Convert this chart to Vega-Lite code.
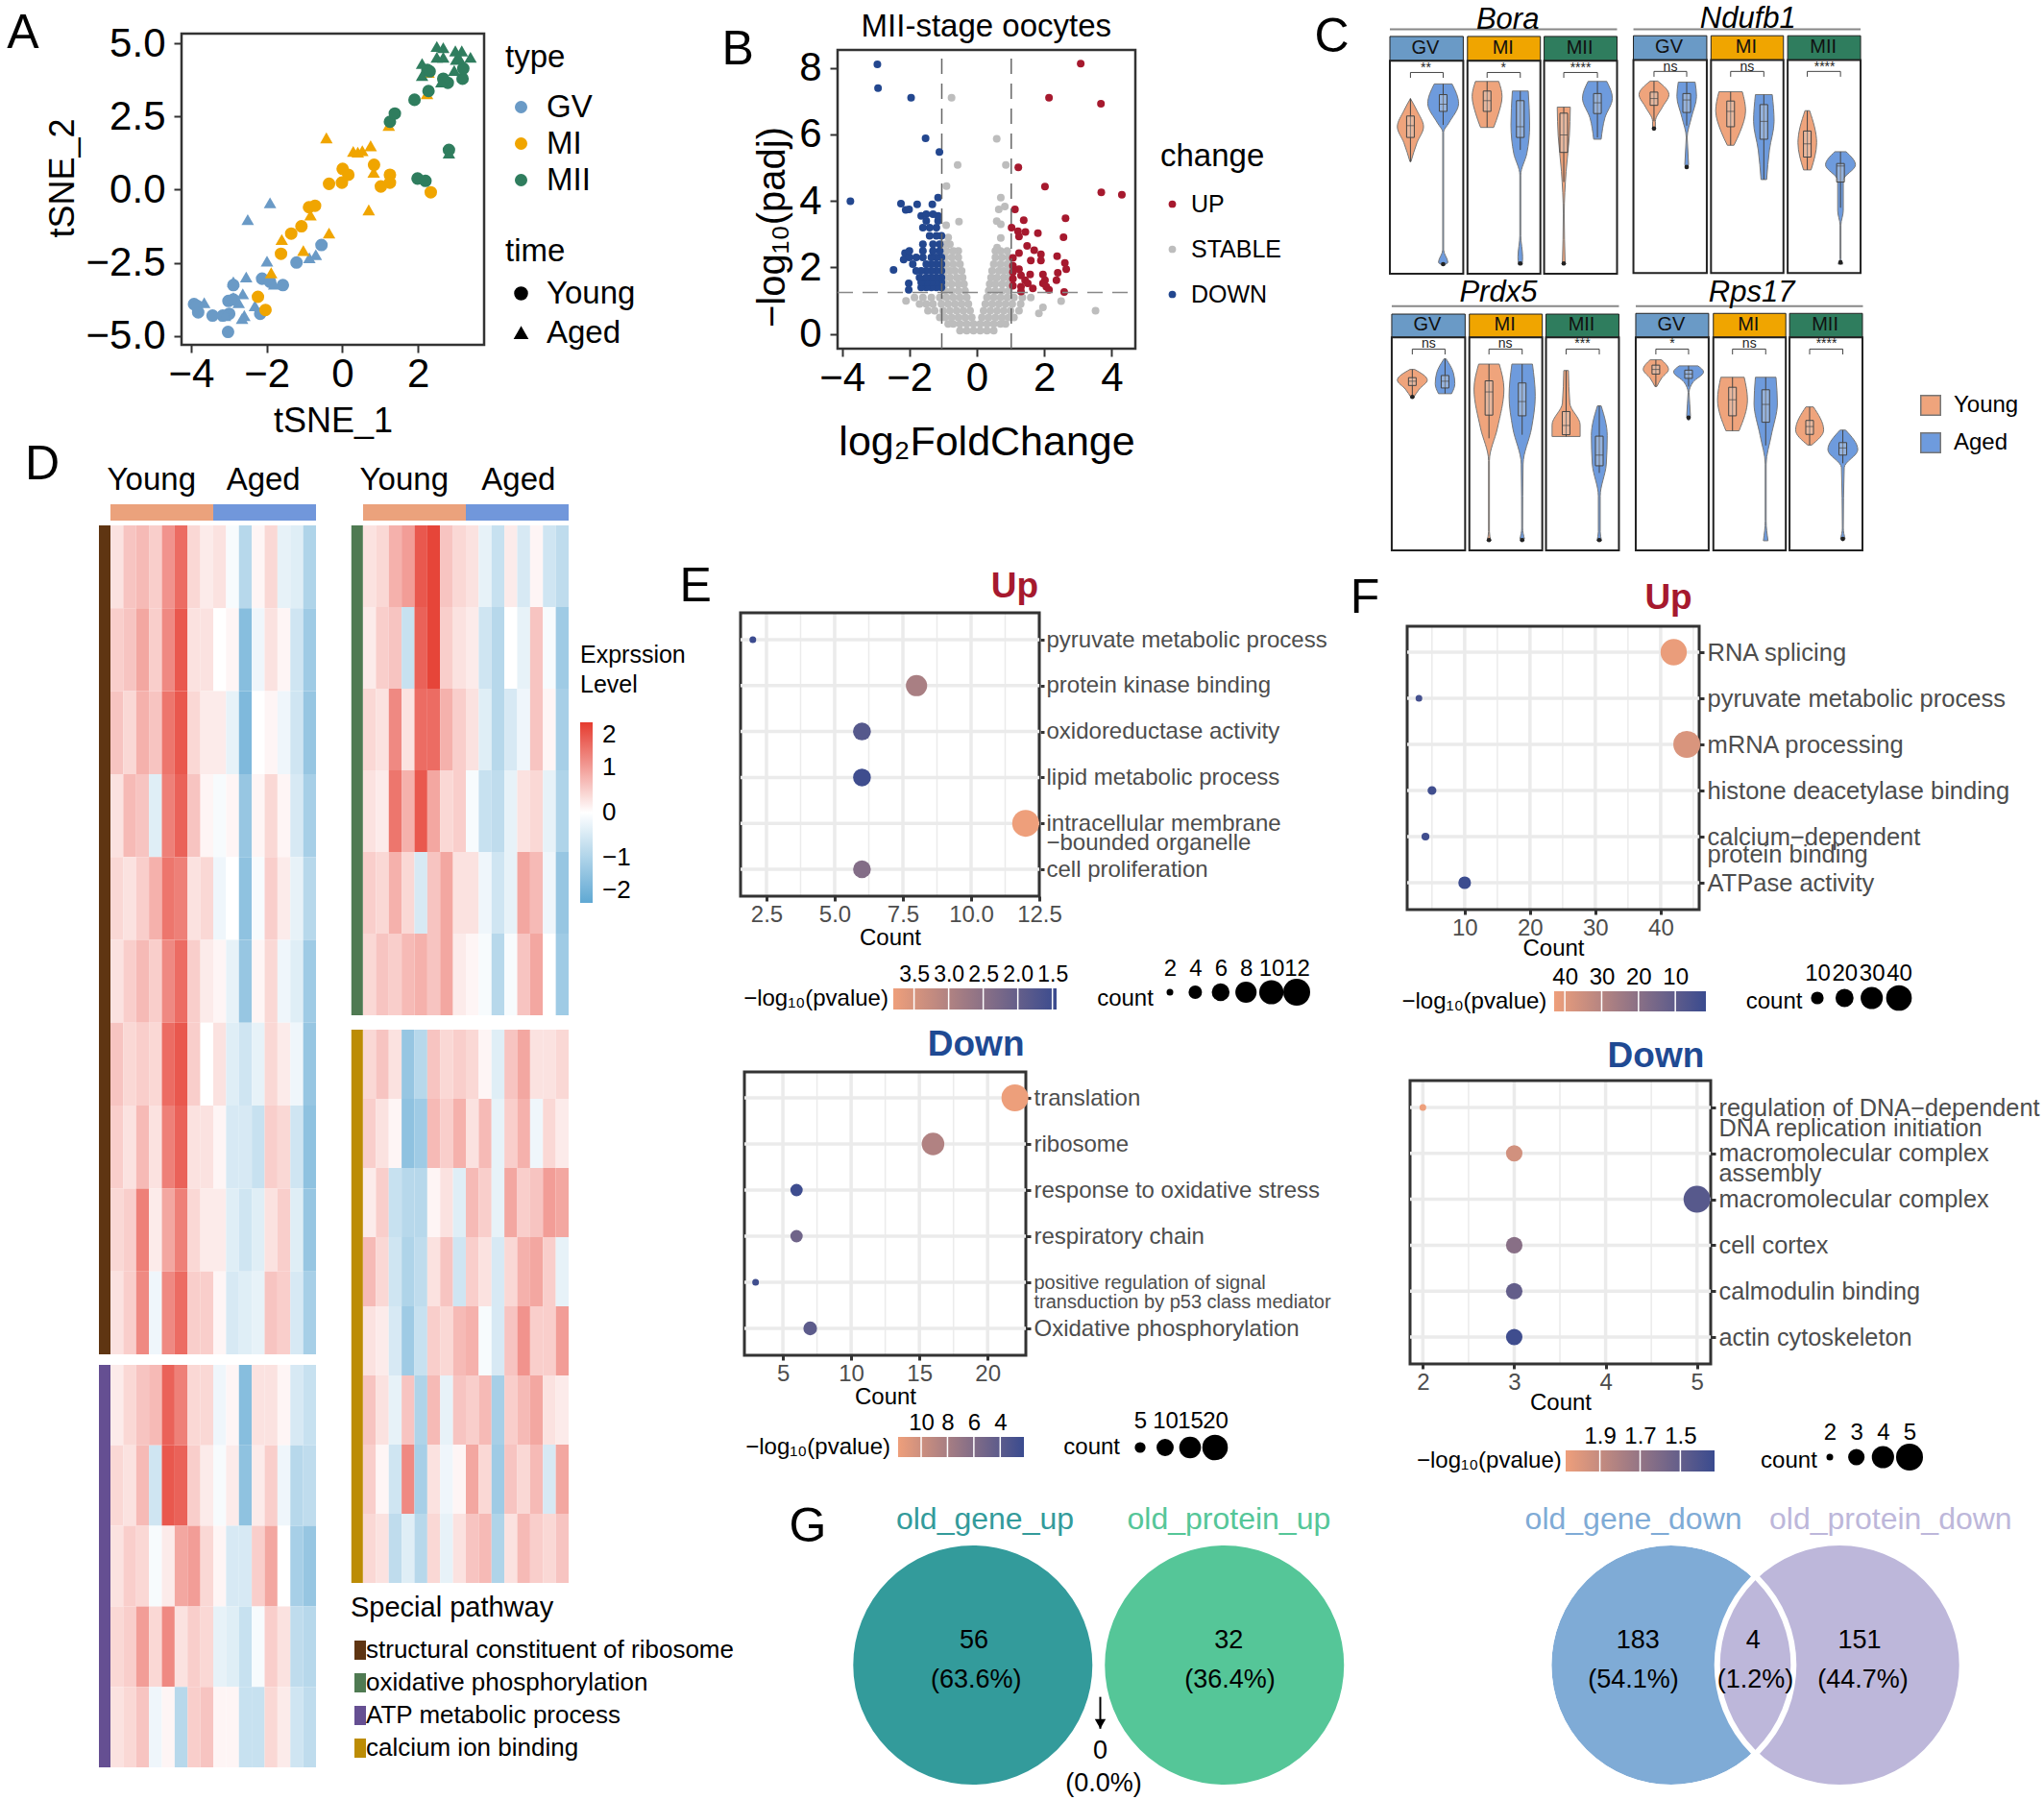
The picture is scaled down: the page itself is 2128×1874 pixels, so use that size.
{"$schema":"https://vega.github.io/schema/vega-lite/v6.json","width":2128,"height":1874,"autosize":"none","padding":0,"background":"white",
"config":{"view":{"stroke":null},"font":"Liberation Sans","axis":{"grid":false,"domain":false,"labelFlush":false,"labelOverlap":false,"tickColor":"#333","tickWidth":2,"tickSize":8,"labelColor":"black","titleFontWeight":"normal","titleColor":"black","labelFontSize":42,"titleFontSize":36},"legend":{"titleFontWeight":"normal"}},
"resolve":{"scale":{"x":"independent","y":"independent","color":"independent","fill":"independent","shape":"independent","size":"independent"},"axis":{"x":"independent","y":"independent"},"legend":{"color":"independent","shape":"independent"}},
"data":{"values":[{}]},
"datasets":{
"eu":[{"term":"pyruvate metabolic process","count":2,"p":1.45},{"term":"protein kinase binding","count":8,"p":2.9},{"term":"oxidoreductase activity","count":6,"p":1.8},{"term":"lipid metabolic process","count":6,"p":1.5},{"term":"intracellular membrane|−bounded organelle","count":12,"p":3.8},{"term":"cell proliferation","count":6,"p":2.4}],
"ed":[{"term":"translation","count":22,"p":11.7},{"term":"ribosome","count":16,"p":8.5},{"term":"response to oxidative stress","count":6,"p":2.4},{"term":"respiratory chain","count":6,"p":5},{"term":"positive regulation of signal|transduction by p53 class mediator","count":3,"p":2.5},{"term":"Oxidative phosphorylation","count":7,"p":4}],
"fu":[{"term":"RNA splicing","count":42,"p":42},{"term":"pyruvate metabolic process","count":3,"p":4},{"term":"mRNA processing","count":44,"p":38},{"term":"histone deacetylase binding","count":5,"p":3},{"term":"calcium−dependent|protein binding","count":4,"p":3},{"term":"ATPase activity","count":10,"p":2}],
"fd":[{"term":"regulation of DNA−dependent|DNA replication initiation","count":2,"p":2.07},{"term":"macromolecular complex|assembly","count":3,"p":1.95},{"term":"macromolecular complex","count":5,"p":1.45},{"term":"cell cortex","count":3,"p":1.65},{"term":"calmodulin binding","count":3,"p":1.5},{"term":"actin cytoskeleton","count":3,"p":1.35}],
"strips":[{"s":"GV","l":186,"r":343,"t":102,"b":170,"e":767,"m":262},{"s":"MI","l":352,"r":508,"t":102,"b":170,"e":767,"m":428},{"s":"MII","l":516,"r":672,"t":102,"b":170,"e":767,"m":592},{"s":"GV","l":707,"r":864,"t":100,"b":168,"e":765,"m":783},{"s":"MI","l":873,"r":1028,"t":100,"b":168,"e":765,"m":948},{"s":"MII","l":1037,"r":1193,"t":100,"b":168,"e":765,"m":1113},{"s":"GV","l":190,"r":347,"t":880,"b":945,"e":1542,"m":266},{"s":"MI","l":356,"r":512,"t":880,"b":945,"e":1542,"m":432},{"s":"MII","l":520,"r":676,"t":880,"b":945,"e":1542,"m":596},{"s":"GV","l":712,"r":868,"t":878,"b":945,"e":1542,"m":788},{"s":"MI","l":878,"r":1033,"t":878,"b":945,"e":1542,"m":953},{"s":"MII","l":1041,"r":1197,"t":878,"b":945,"e":1542,"m":1117}],
"brackets":[{"a":230,"b":300,"y":203,"e":218,"t":"**","m":263,"n":190},{"a":394,"b":465,"y":203,"e":218,"t":"*","m":429,"n":190},{"a":558,"b":630,"y":203,"e":218,"t":"****","m":594,"n":190},{"a":751,"b":821,"y":200,"e":215,"t":"ns","m":786,"n":187},{"a":915,"b":986,"y":200,"e":215,"t":"ns","m":950,"n":187},{"a":1079,"b":1150,"y":200,"e":215,"t":"****","m":1116,"n":187},{"a":234,"b":304,"y":978,"e":993,"t":"ns","m":269,"n":963},{"a":398,"b":469,"y":978,"e":993,"t":"ns","m":433,"n":963},{"a":563,"b":634,"y":978,"e":993,"t":"***","m":598,"n":963},{"a":755,"b":825,"y":978,"e":993,"t":"*","m":790,"n":963},{"a":919,"b":990,"y":978,"e":993,"t":"ns","m":955,"n":963},{"a":1084,"b":1155,"y":978,"e":993,"t":"****","m":1120,"n":963}],
"boxes":[{"c":230,"a":325,"b":385,"m":352,"u":276,"d":453},{"c":300,"a":265,"b":312,"m":292,"u":235,"d":350,"o":740},{"c":394,"a":255,"b":312,"m":282,"u":228,"d":357},{"c":465,"a":282,"b":385,"m":355,"u":255,"d":420,"o":738},{"c":558,"a":317,"b":427,"m":378,"u":300,"d":510,"o":738},{"c":630,"a":262,"b":318,"m":288,"u":228,"d":385},{"c":751,"a":258,"b":295,"m":276,"u":227,"d":340,"o":360},{"c":821,"a":262,"b":315,"m":280,"u":230,"d":352,"o":468},{"c":915,"a":283,"b":355,"m":312,"u":257,"d":407},{"c":986,"a":293,"b":390,"m":340,"u":265,"d":503},{"c":1079,"a":367,"b":440,"m":403,"u":310,"d":476},{"c":1150,"a":458,"b":510,"m":465,"u":425,"d":582,"o":735},{"c":234,"a":1058,"b":1080,"m":1068,"u":1035,"d":1108,"o":1112},{"c":304,"a":1052,"b":1087,"m":1068,"u":1005,"d":1103},{"c":398,"a":1067,"b":1163,"m":1098,"u":1020,"d":1228,"o":1513},{"c":469,"a":1073,"b":1165,"m":1125,"u":1020,"d":1218,"o":1513},{"c":563,"a":1153,"b":1218,"m":1192,"u":1038,"d":1223},{"c":634,"a":1222,"b":1305,"m":1275,"u":1137,"d":1325,"o":1513},{"c":755,"a":1023,"b":1048,"m":1035,"u":1008,"d":1083},{"c":825,"a":1037,"b":1060,"m":1048,"u":1025,"d":1083,"o":1170},{"c":919,"a":1085,"b":1165,"m":1120,"u":1057,"d":1207},{"c":990,"a":1092,"b":1183,"m":1133,"u":1057,"d":1248},{"c":1084,"a":1178,"b":1217,"m":1195,"u":1140,"d":1247},{"c":1155,"a":1240,"b":1275,"m":1255,"u":1205,"d":1298,"o":1510}],
"violins":[{"v":"B1","t":"Young","e":276,"l":230,"h":230},{"v":"B1","t":"Young","e":310,"l":216,"h":244},{"v":"B1","t":"Young","e":355,"l":202,"h":258},{"v":"B1","t":"Young","e":400,"l":216,"h":244},{"v":"B1","t":"Young","e":453,"l":229,"h":231},
{"v":"B2","t":"Aged","e":235,"l":281,"h":319},{"v":"B2","t":"Aged","e":290,"l":267,"h":333},{"v":"B2","t":"Aged","e":345,"l":288,"h":312},{"v":"B2","t":"Aged","e":370,"l":299,"h":301},{"v":"B2","t":"Aged","e":700,"l":299,"h":301},{"v":"B2","t":"Aged","e":735,"l":290,"h":310},{"v":"B2","t":"Aged","e":742,"l":298,"h":302},
{"v":"B3","t":"Young","e":228,"l":369,"h":419},{"v":"B3","t":"Young","e":270,"l":362,"h":426},{"v":"B3","t":"Young","e":320,"l":370,"h":418},{"v":"B3","t":"Young","e":357,"l":380,"h":408},
{"v":"B4","t":"Aged","e":255,"l":448,"h":482},{"v":"B4","t":"Aged","e":350,"l":445,"h":485},{"v":"B4","t":"Aged","e":430,"l":451,"h":479},{"v":"B4","t":"Aged","e":490,"l":464,"h":466},{"v":"B4","t":"Aged","e":660,"l":464,"h":466},{"v":"B4","t":"Aged","e":720,"l":460,"h":470},{"v":"B4","t":"Aged","e":742,"l":461,"h":469},
{"v":"B5","t":"Young","e":300,"l":544,"h":572},{"v":"B5","t":"Young","e":380,"l":546,"h":570},{"v":"B5","t":"Young","e":480,"l":553,"h":563},{"v":"B5","t":"Young","e":600,"l":557,"h":559},{"v":"B5","t":"Young","e":742,"l":555,"h":561},
{"v":"B6","t":"Aged","e":228,"l":610,"h":650},{"v":"B6","t":"Aged","e":275,"l":598,"h":662},{"v":"B6","t":"Aged","e":330,"l":614,"h":646},{"v":"B6","t":"Aged","e":390,"l":622,"h":638},
{"v":"N1","t":"Young","e":227,"l":743,"h":759},{"v":"N1","t":"Young","e":265,"l":719,"h":783},{"v":"N1","t":"Young","e":300,"l":733,"h":769},{"v":"N1","t":"Young","e":340,"l":748,"h":754},{"v":"N1","t":"Young","e":362,"l":748,"h":754},
{"v":"N2","t":"Aged","e":230,"l":803,"h":839},{"v":"N2","t":"Aged","e":270,"l":800,"h":842},{"v":"N2","t":"Aged","e":330,"l":811,"h":831},{"v":"N2","t":"Aged","e":385,"l":820,"h":822},{"v":"N2","t":"Aged","e":460,"l":817,"h":825},{"v":"N2","t":"Aged","e":472,"l":820,"h":822},
{"v":"N3","t":"Young","e":257,"l":890,"h":940},{"v":"N3","t":"Young","e":310,"l":883,"h":947},{"v":"N3","t":"Young","e":370,"l":895,"h":935},{"v":"N3","t":"Young","e":407,"l":908,"h":922},
{"v":"N4","t":"Aged","e":265,"l":968,"h":1004},{"v":"N4","t":"Aged","e":340,"l":964,"h":1008},{"v":"N4","t":"Aged","e":420,"l":974,"h":998},{"v":"N4","t":"Aged","e":503,"l":980,"h":992},
{"v":"N5","t":"Young","e":310,"l":1074,"h":1084},{"v":"N5","t":"Young","e":400,"l":1059,"h":1099},{"v":"N5","t":"Young","e":476,"l":1071,"h":1087},
{"v":"N6","t":"Aged","e":425,"l":1138,"h":1162},{"v":"N6","t":"Aged","e":462,"l":1118,"h":1182},{"v":"N6","t":"Aged","e":505,"l":1144,"h":1156},{"v":"N6","t":"Aged","e":590,"l":1144,"h":1156},{"v":"N6","t":"Aged","e":630,"l":1149,"h":1151},{"v":"N6","t":"Aged","e":725,"l":1149,"h":1151},{"v":"N6","t":"Aged","e":740,"l":1145,"h":1155},
{"v":"P1","t":"Young","e":1035,"l":229,"h":239},{"v":"P1","t":"Young","e":1065,"l":202,"h":266},{"v":"P1","t":"Young","e":1090,"l":219,"h":249},{"v":"P1","t":"Young","e":1115,"l":232,"h":236},
{"v":"P2","t":"Aged","e":1005,"l":302,"h":306},{"v":"P2","t":"Aged","e":1045,"l":286,"h":322},{"v":"P2","t":"Aged","e":1075,"l":283,"h":325},{"v":"P2","t":"Aged","e":1103,"l":290,"h":318},
{"v":"P3","t":"Young","e":1020,"l":376,"h":420},{"v":"P3","t":"Young","e":1090,"l":366,"h":430},{"v":"P3","t":"Young","e":1200,"l":380,"h":416},{"v":"P3","t":"Young","e":1290,"l":397,"h":399},{"v":"P3","t":"Young","e":1490,"l":397,"h":399},{"v":"P3","t":"Young","e":1515,"l":394,"h":402},
{"v":"P4","t":"Aged","e":1020,"l":447,"h":491},{"v":"P4","t":"Aged","e":1110,"l":441,"h":497},{"v":"P4","t":"Aged","e":1200,"l":449,"h":489},{"v":"P4","t":"Aged","e":1300,"l":467,"h":471},{"v":"P4","t":"Aged","e":1480,"l":468,"h":470},{"v":"P4","t":"Aged","e":1510,"l":464,"h":474},
{"v":"P5","t":"Young","e":1038,"l":558,"h":568},{"v":"P5","t":"Young","e":1130,"l":555,"h":571},{"v":"P5","t":"Young","e":1190,"l":533,"h":593},{"v":"P5","t":"Young","e":1223,"l":533,"h":593},
{"v":"P6","t":"Aged","e":1137,"l":630,"h":638},{"v":"P6","t":"Aged","e":1220,"l":617,"h":651},{"v":"P6","t":"Aged","e":1300,"l":619,"h":649},{"v":"P6","t":"Aged","e":1390,"l":632,"h":636},{"v":"P6","t":"Aged","e":1490,"l":632,"h":636},{"v":"P6","t":"Aged","e":1515,"l":629,"h":639},
{"v":"R1","t":"Young","e":1008,"l":743,"h":767},{"v":"R1","t":"Young","e":1035,"l":728,"h":782},{"v":"R1","t":"Young","e":1060,"l":743,"h":767},{"v":"R1","t":"Young","e":1083,"l":753,"h":757},
{"v":"R2","t":"Aged","e":1025,"l":805,"h":845},{"v":"R2","t":"Aged","e":1042,"l":793,"h":857},{"v":"R2","t":"Aged","e":1070,"l":815,"h":835},{"v":"R2","t":"Aged","e":1100,"l":824,"h":826},{"v":"R2","t":"Aged","e":1165,"l":821,"h":829},{"v":"R2","t":"Aged","e":1177,"l":824,"h":826},
{"v":"R3","t":"Young","e":1057,"l":894,"h":944},{"v":"R3","t":"Young","e":1120,"l":887,"h":951},{"v":"R3","t":"Young","e":1207,"l":905,"h":933},
{"v":"R4","t":"Aged","e":1057,"l":968,"h":1012},{"v":"R4","t":"Aged","e":1130,"l":965,"h":1015},{"v":"R4","t":"Aged","e":1220,"l":978,"h":1002},{"v":"R4","t":"Aged","e":1300,"l":989,"h":991},{"v":"R4","t":"Aged","e":1460,"l":989,"h":991},{"v":"R4","t":"Aged","e":1515,"l":985,"h":995},
{"v":"R5","t":"Young","e":1140,"l":1076,"h":1092},{"v":"R5","t":"Young","e":1205,"l":1054,"h":1114},{"v":"R5","t":"Young","e":1247,"l":1080,"h":1088},
{"v":"R6","t":"Aged","e":1205,"l":1149,"h":1161},{"v":"R6","t":"Aged","e":1260,"l":1123,"h":1187},{"v":"R6","t":"Aged","e":1310,"l":1152,"h":1158},{"v":"R6","t":"Aged","e":1480,"l":1154,"h":1156},{"v":"R6","t":"Aged","e":1510,"l":1150,"h":1160}],
"brown":[{"r":0,"c":0,"v":0.3},{"r":0,"c":1,"v":0.6},{"r":0,"c":2,"v":0.7},{"r":0,"c":3,"v":0.5},{"r":0,"c":4,"v":1.1},{"r":0,"c":5,"v":1.5},{"r":0,"c":6,"v":0.4},{"r":0,"c":7,"v":0.2},{"r":0,"c":8,"v":0.3},{"r":0,"c":9,"v":-0.1},{"r":0,"c":10,"v":-0.9},{"r":0,"c":11,"v":0.1},{"r":0,"c":12,"v":0.4},{"r":0,"c":13,"v":-0.3},{"r":0,"c":14,"v":-0.4},{"r":0,"c":15,"v":-1},
{"r":1,"c":0,"v":0.5},{"r":1,"c":1,"v":0.6},{"r":1,"c":2,"v":0.9},{"r":1,"c":3,"v":0.5},{"r":1,"c":4,"v":1.2},{"r":1,"c":5,"v":1.7},{"r":1,"c":6,"v":0.3},{"r":1,"c":7,"v":0.3},{"r":1,"c":8,"v":0},{"r":1,"c":9,"v":0.1},{"r":1,"c":10,"v":-1.5},{"r":1,"c":11,"v":-0.2},{"r":1,"c":12,"v":0.3},{"r":1,"c":13,"v":0.1},{"r":1,"c":14,"v":-0.6},{"r":1,"c":15,"v":-1.2},
{"r":2,"c":0,"v":0.6},{"r":2,"c":1,"v":0.4},{"r":2,"c":2,"v":0.8},{"r":2,"c":3,"v":0.6},{"r":2,"c":4,"v":1.4},{"r":2,"c":5,"v":1.7},{"r":2,"c":6,"v":0.4},{"r":2,"c":7,"v":0.2},{"r":2,"c":8,"v":0.2},{"r":2,"c":9,"v":-0.3},{"r":2,"c":10,"v":-1.6},{"r":2,"c":11,"v":0},{"r":2,"c":12,"v":0.1},{"r":2,"c":13,"v":-0.2},{"r":2,"c":14,"v":-0.6},{"r":2,"c":15,"v":-1.3},
{"r":3,"c":0,"v":0.3},{"r":3,"c":1,"v":0.7},{"r":3,"c":2,"v":0.6},{"r":3,"c":3,"v":-0.4},{"r":3,"c":4,"v":1.3},{"r":3,"c":5,"v":1.6},{"r":3,"c":6,"v":0.6},{"r":3,"c":7,"v":0.1},{"r":3,"c":8,"v":-0.1},{"r":3,"c":9,"v":0.1},{"r":3,"c":10,"v":-1.3},{"r":3,"c":11,"v":0.1},{"r":3,"c":12,"v":0.4},{"r":3,"c":13,"v":0.1},{"r":3,"c":14,"v":-0.5},{"r":3,"c":15,"v":-1.1},
{"r":4,"c":0,"v":0.4},{"r":4,"c":1,"v":0.3},{"r":4,"c":2,"v":0.5},{"r":4,"c":3,"v":0.8},{"r":4,"c":4,"v":1.4},{"r":4,"c":5,"v":1.3},{"r":4,"c":6,"v":0.3},{"r":4,"c":7,"v":0.4},{"r":4,"c":8,"v":-0.2},{"r":4,"c":9,"v":0},{"r":4,"c":10,"v":-1.4},{"r":4,"c":11,"v":-0.1},{"r":4,"c":12,"v":0.5},{"r":4,"c":13,"v":0.2},{"r":4,"c":14,"v":-0.3},{"r":4,"c":15,"v":-0.9},
{"r":5,"c":0,"v":0.3},{"r":5,"c":1,"v":0.5},{"r":5,"c":2,"v":0.7},{"r":5,"c":3,"v":0.5},{"r":5,"c":4,"v":1.2},{"r":5,"c":5,"v":1.5},{"r":5,"c":6,"v":0.5},{"r":5,"c":7,"v":0.2},{"r":5,"c":8,"v":0.1},{"r":5,"c":9,"v":-0.3},{"r":5,"c":10,"v":-1.3},{"r":5,"c":11,"v":0.1},{"r":5,"c":12,"v":0.4},{"r":5,"c":13,"v":-0.2},{"r":5,"c":14,"v":-0.4},{"r":5,"c":15,"v":-1.2},
{"r":6,"c":0,"v":0.6},{"r":6,"c":1,"v":0.4},{"r":6,"c":2,"v":0.5},{"r":6,"c":3,"v":0.4},{"r":6,"c":4,"v":1.5},{"r":6,"c":5,"v":1.7},{"r":6,"c":6,"v":0.5},{"r":6,"c":7,"v":0},{"r":6,"c":8,"v":0.3},{"r":6,"c":9,"v":-0.4},{"r":6,"c":10,"v":-0.6},{"r":6,"c":11,"v":-0.3},{"r":6,"c":12,"v":0.4},{"r":6,"c":13,"v":0.2},{"r":6,"c":14,"v":-0.2},{"r":6,"c":15,"v":-1.3},
{"r":7,"c":0,"v":0.5},{"r":7,"c":1,"v":0.3},{"r":7,"c":2,"v":0.7},{"r":7,"c":3,"v":0.3},{"r":7,"c":4,"v":1.3},{"r":7,"c":5,"v":1.6},{"r":7,"c":6,"v":0.3},{"r":7,"c":7,"v":0.3},{"r":7,"c":8,"v":0.1},{"r":7,"c":9,"v":-0.5},{"r":7,"c":10,"v":-0.5},{"r":7,"c":11,"v":-0.7},{"r":7,"c":12,"v":0.5},{"r":7,"c":13,"v":0.4},{"r":7,"c":14,"v":-0.6},{"r":7,"c":15,"v":-1.4},
{"r":8,"c":0,"v":0.4},{"r":8,"c":1,"v":0.5},{"r":8,"c":2,"v":1.3},{"r":8,"c":3,"v":0.2},{"r":8,"c":4,"v":0.9},{"r":8,"c":5,"v":1.3},{"r":8,"c":6,"v":0.4},{"r":8,"c":7,"v":0.2},{"r":8,"c":8,"v":0.2},{"r":8,"c":9,"v":-0.4},{"r":8,"c":10,"v":-0.6},{"r":8,"c":11,"v":-0.4},{"r":8,"c":12,"v":0.3},{"r":8,"c":13,"v":0.5},{"r":8,"c":14,"v":-0.4},{"r":8,"c":15,"v":-1.3},
{"r":9,"c":0,"v":0.3},{"r":9,"c":1,"v":0.5},{"r":9,"c":2,"v":1.2},{"r":9,"c":3,"v":-0.2},{"r":9,"c":4,"v":1.2},{"r":9,"c":5,"v":1.5},{"r":9,"c":6,"v":0.5},{"r":9,"c":7,"v":0.5},{"r":9,"c":8,"v":0.1},{"r":9,"c":9,"v":-0.5},{"r":9,"c":10,"v":-0.4},{"r":9,"c":11,"v":-0.3},{"r":9,"c":12,"v":0.6},{"r":9,"c":13,"v":0.5},{"r":9,"c":14,"v":-0.5},{"r":9,"c":15,"v":-1.1}],
"purple":[{"r":0,"c":0,"v":0.2},{"r":0,"c":1,"v":0.4},{"r":0,"c":2,"v":0.6},{"r":0,"c":3,"v":0.7},{"r":0,"c":4,"v":1.6},{"r":0,"c":5,"v":1.3},{"r":0,"c":6,"v":0.4},{"r":0,"c":7,"v":0.4},{"r":0,"c":8,"v":-0.2},{"r":0,"c":9,"v":0.1},{"r":0,"c":10,"v":-1.5},{"r":0,"c":11,"v":0.3},{"r":0,"c":12,"v":0.3},{"r":0,"c":13,"v":0.1},{"r":0,"c":14,"v":-0.5},{"r":0,"c":15,"v":-0.7},
{"r":1,"c":0,"v":0.4},{"r":1,"c":1,"v":0.3},{"r":1,"c":2,"v":0.7},{"r":1,"c":3,"v":-0.6},{"r":1,"c":4,"v":1.7},{"r":1,"c":5,"v":1.6},{"r":1,"c":6,"v":0.5},{"r":1,"c":7,"v":0.2},{"r":1,"c":8,"v":-0.1},{"r":1,"c":9,"v":0.2},{"r":1,"c":10,"v":-1.4},{"r":1,"c":11,"v":0.2},{"r":1,"c":12,"v":0.5},{"r":1,"c":13,"v":-0.2},{"r":1,"c":14,"v":-0.9},{"r":1,"c":15,"v":-0.8},
{"r":2,"c":0,"v":0.3},{"r":2,"c":1,"v":0.5},{"r":2,"c":2,"v":0.4},{"r":2,"c":3,"v":-0.1},{"r":2,"c":4,"v":0.2},{"r":2,"c":5,"v":0.9},{"r":2,"c":6,"v":1},{"r":2,"c":7,"v":0.4},{"r":2,"c":8,"v":0.1},{"r":2,"c":9,"v":-0.5},{"r":2,"c":10,"v":-0.5},{"r":2,"c":11,"v":0.5},{"r":2,"c":12,"v":0.9},{"r":2,"c":13,"v":0},{"r":2,"c":14,"v":-1.1},{"r":2,"c":15,"v":-1.3},
{"r":3,"c":0,"v":0.4},{"r":3,"c":1,"v":0.5},{"r":3,"c":2,"v":1},{"r":3,"c":3,"v":0.4},{"r":3,"c":4,"v":1.2},{"r":3,"c":5,"v":0.3},{"r":3,"c":6,"v":0.5},{"r":3,"c":7,"v":0.4},{"r":3,"c":8,"v":-0.3},{"r":3,"c":9,"v":-0.4},{"r":3,"c":10,"v":-0.7},{"r":3,"c":11,"v":-0.1},{"r":3,"c":12,"v":0.5},{"r":3,"c":13,"v":0.3},{"r":3,"c":14,"v":-0.8},{"r":3,"c":15,"v":-0.9},
{"r":4,"c":0,"v":0.3},{"r":4,"c":1,"v":0.4},{"r":4,"c":2,"v":0.6},{"r":4,"c":3,"v":-0.2},{"r":4,"c":4,"v":0.1},{"r":4,"c":5,"v":-0.9},{"r":4,"c":6,"v":0.5},{"r":4,"c":7,"v":0.6},{"r":4,"c":8,"v":0.1},{"r":4,"c":9,"v":0.1},{"r":4,"c":10,"v":-0.7},{"r":4,"c":11,"v":-0.7},{"r":4,"c":12,"v":0.4},{"r":4,"c":13,"v":0.2},{"r":4,"c":14,"v":-0.6},{"r":4,"c":15,"v":-0.8}],
"green":[{"r":0,"c":0,"v":0.3},{"r":0,"c":1,"v":0.4},{"r":0,"c":2,"v":0.8},{"r":0,"c":3,"v":1},{"r":0,"c":4,"v":1.7},{"r":0,"c":5,"v":1.9},{"r":0,"c":6,"v":0.6},{"r":0,"c":7,"v":0.4},{"r":0,"c":8,"v":0.3},{"r":0,"c":9,"v":-0.3},{"r":0,"c":10,"v":-0.7},{"r":0,"c":11,"v":0.2},{"r":0,"c":12,"v":-0.5},{"r":0,"c":13,"v":0.1},{"r":0,"c":14,"v":-0.6},{"r":0,"c":15,"v":-0.8},
{"r":1,"c":0,"v":0.2},{"r":1,"c":1,"v":0.5},{"r":1,"c":2,"v":0.6},{"r":1,"c":3,"v":-0.7},{"r":1,"c":4,"v":1.6},{"r":1,"c":5,"v":1.9},{"r":1,"c":6,"v":0.5},{"r":1,"c":7,"v":0.3},{"r":1,"c":8,"v":0.2},{"r":1,"c":9,"v":-0.6},{"r":1,"c":10,"v":-0.9},{"r":1,"c":11,"v":0},{"r":1,"c":12,"v":-0.3},{"r":1,"c":13,"v":0.6},{"r":1,"c":14,"v":-0.1},{"r":1,"c":15,"v":-1.2},
{"r":2,"c":0,"v":0.4},{"r":2,"c":1,"v":0.3},{"r":2,"c":2,"v":1.2},{"r":2,"c":3,"v":0.3},{"r":2,"c":4,"v":1.5},{"r":2,"c":5,"v":1.5},{"r":2,"c":6,"v":0.8},{"r":2,"c":7,"v":0.5},{"r":2,"c":8,"v":0.3},{"r":2,"c":9,"v":-0.4},{"r":2,"c":10,"v":-0.9},{"r":2,"c":11,"v":-0.5},{"r":2,"c":12,"v":-0.2},{"r":2,"c":13,"v":0.6},{"r":2,"c":14,"v":0.1},{"r":2,"c":15,"v":-1.1},
{"r":3,"c":0,"v":0.3},{"r":3,"c":1,"v":0.2},{"r":3,"c":2,"v":1.4},{"r":3,"c":3,"v":0.8},{"r":3,"c":4,"v":1.7},{"r":3,"c":5,"v":0.9},{"r":3,"c":6,"v":0.4},{"r":3,"c":7,"v":0.5},{"r":3,"c":8,"v":-0.1},{"r":3,"c":9,"v":-0.7},{"r":3,"c":10,"v":-0.8},{"r":3,"c":11,"v":-0.3},{"r":3,"c":12,"v":0.3},{"r":3,"c":13,"v":0.4},{"r":3,"c":14,"v":-0.3},{"r":3,"c":15,"v":-1},
{"r":4,"c":0,"v":0.5},{"r":4,"c":1,"v":0.4},{"r":4,"c":2,"v":0.8},{"r":4,"c":3,"v":0.4},{"r":4,"c":4,"v":-0.5},{"r":4,"c":5,"v":0.6},{"r":4,"c":6,"v":0.9},{"r":4,"c":7,"v":0.3},{"r":4,"c":8,"v":0.3},{"r":4,"c":9,"v":-0.2},{"r":4,"c":10,"v":-0.6},{"r":4,"c":11,"v":-0.3},{"r":4,"c":12,"v":0.9},{"r":4,"c":13,"v":0.7},{"r":4,"c":14,"v":-0.2},{"r":4,"c":15,"v":-1.3},
{"r":5,"c":0,"v":0.4},{"r":5,"c":1,"v":0.6},{"r":5,"c":2,"v":0.5},{"r":5,"c":3,"v":0.7},{"r":5,"c":4,"v":0.8},{"r":5,"c":5,"v":0.6},{"r":5,"c":6,"v":0.9},{"r":5,"c":7,"v":0.2},{"r":5,"c":8,"v":0.1},{"r":5,"c":9,"v":-0.1},{"r":5,"c":10,"v":-0.9},{"r":5,"c":11,"v":-0.1},{"r":5,"c":12,"v":0.6},{"r":5,"c":13,"v":0.9},{"r":5,"c":14,"v":0},{"r":5,"c":15,"v":-1.2}],
"gold":[{"r":0,"c":0,"v":0.4},{"r":0,"c":1,"v":0.6},{"r":0,"c":2,"v":0.3},{"r":0,"c":3,"v":-1.3},{"r":0,"c":4,"v":-0.9},{"r":0,"c":5,"v":0.6},{"r":0,"c":6,"v":0.4},{"r":0,"c":7,"v":0.5},{"r":0,"c":8,"v":0.4},{"r":0,"c":9,"v":0.1},{"r":0,"c":10,"v":-0.4},{"r":0,"c":11,"v":0.6},{"r":0,"c":12,"v":0.9},{"r":0,"c":13,"v":0.3},{"r":0,"c":14,"v":0.3},{"r":0,"c":15,"v":0.4},
{"r":1,"c":0,"v":0.5},{"r":1,"c":1,"v":0.3},{"r":1,"c":2,"v":0.1},{"r":1,"c":3,"v":-1.4},{"r":1,"c":4,"v":-1.2},{"r":1,"c":5,"v":0.7},{"r":1,"c":6,"v":0.5},{"r":1,"c":7,"v":0.8},{"r":1,"c":8,"v":0.3},{"r":1,"c":9,"v":0.7},{"r":1,"c":10,"v":-0.3},{"r":1,"c":11,"v":0.5},{"r":1,"c":12,"v":0.8},{"r":1,"c":13,"v":-0.2},{"r":1,"c":14,"v":0.4},{"r":1,"c":15,"v":0.2},
{"r":2,"c":0,"v":0.2},{"r":2,"c":1,"v":0.5},{"r":2,"c":2,"v":-0.7},{"r":2,"c":3,"v":-0.9},{"r":2,"c":4,"v":-0.9},{"r":2,"c":5,"v":0.1},{"r":2,"c":6,"v":0.3},{"r":2,"c":7,"v":-0.4},{"r":2,"c":8,"v":0.7},{"r":2,"c":9,"v":0.5},{"r":2,"c":10,"v":-0.3},{"r":2,"c":11,"v":0.9},{"r":2,"c":12,"v":0.5},{"r":2,"c":13,"v":0.6},{"r":2,"c":14,"v":1},{"r":2,"c":15,"v":0.9},
{"r":3,"c":0,"v":0.7},{"r":3,"c":1,"v":0.4},{"r":3,"c":2,"v":-0.6},{"r":3,"c":3,"v":-1},{"r":3,"c":4,"v":-0.8},{"r":3,"c":5,"v":0.3},{"r":3,"c":6,"v":0.6},{"r":3,"c":7,"v":-0.6},{"r":3,"c":8,"v":0.5},{"r":3,"c":9,"v":0.3},{"r":3,"c":10,"v":-0.5},{"r":3,"c":11,"v":0.4},{"r":3,"c":12,"v":0.8},{"r":3,"c":13,"v":0.9},{"r":3,"c":14,"v":0.5},{"r":3,"c":15,"v":-0.3},
{"r":4,"c":0,"v":0.3},{"r":4,"c":1,"v":0.2},{"r":4,"c":2,"v":-0.5},{"r":4,"c":3,"v":-1.2},{"r":4,"c":4,"v":-0.7},{"r":4,"c":5,"v":0.5},{"r":4,"c":6,"v":0.4},{"r":4,"c":7,"v":0.7},{"r":4,"c":8,"v":0.8},{"r":4,"c":9,"v":-0.1},{"r":4,"c":10,"v":-0.5},{"r":4,"c":11,"v":0.6},{"r":4,"c":12,"v":1.1},{"r":4,"c":13,"v":0.5},{"r":4,"c":14,"v":0.5},{"r":4,"c":15,"v":1},
{"r":5,"c":0,"v":0.6},{"r":5,"c":1,"v":0.3},{"r":5,"c":2,"v":-0.3},{"r":5,"c":3,"v":0.6},{"r":5,"c":4,"v":-1},{"r":5,"c":5,"v":0.7},{"r":5,"c":6,"v":-0.3},{"r":5,"c":7,"v":0.6},{"r":5,"c":8,"v":0.5},{"r":5,"c":9,"v":0.7},{"r":5,"c":10,"v":-1.1},{"r":5,"c":11,"v":0.5},{"r":5,"c":12,"v":0.7},{"r":5,"c":13,"v":0.9},{"r":5,"c":14,"v":0.3},{"r":5,"c":15,"v":0.2},
{"r":6,"c":0,"v":0.5},{"r":6,"c":1,"v":0.1},{"r":6,"c":2,"v":-0.6},{"r":6,"c":3,"v":1.2},{"r":6,"c":4,"v":-1.1},{"r":6,"c":5,"v":0.3},{"r":6,"c":6,"v":-0.2},{"r":6,"c":7,"v":0.1},{"r":6,"c":8,"v":0.9},{"r":6,"c":9,"v":0.4},{"r":6,"c":10,"v":-1.2},{"r":6,"c":11,"v":0.6},{"r":6,"c":12,"v":0.4},{"r":6,"c":13,"v":0.7},{"r":6,"c":14,"v":-0.5},{"r":6,"c":15,"v":0.9},
{"r":7,"c":0,"v":0.4},{"r":7,"c":1,"v":0.3},{"r":7,"c":2,"v":-0.8},{"r":7,"c":3,"v":-0.4},{"r":7,"c":4,"v":-0.9},{"r":7,"c":5,"v":0.4},{"r":7,"c":6,"v":-0.3},{"r":7,"c":7,"v":0.3},{"r":7,"c":8,"v":0.6},{"r":7,"c":9,"v":0.7},{"r":7,"c":10,"v":-1},{"r":7,"c":11,"v":0.3},{"r":7,"c":12,"v":0.7},{"r":7,"c":13,"v":0.5},{"r":7,"c":14,"v":0.4},{"r":7,"c":15,"v":0.6}]
},
"layer":[
{"mark":{"type":"rule","opacity":0},"encoding":{"x":{"datum":-4.25,"scale":{"domain":[-4.25,3.75],"range":[189,504],"nice":false},"axis":{"orient":"bottom","offset":-1515,"values":[-4,-2,0,2],"title":"tSNE_1","titlePadding":11}},"y":{"datum":-5.3,"scale":{"domain":[-5.3,5.33],"range":[359,35],"nice":false},"axis":{"orient":"left","offset":-189,"values":[-5,-2.5,0,2.5,5],"format":".1f","title":"tSNE_2","titlePadding":5,"labelPadding":9,"titleY":185}}}},
{"mark":{"type":"rule","opacity":0},"encoding":{"x":{"datum":-4.13,"scale":{"domain":[-4.13,4.7],"range":[872,1182],"nice":false},"axis":{"orient":"bottom","offset":-1511,"values":[-4,-2,0,2,4],"title":"log₂FoldChange","titleFontSize":43,"titlePadding":25}},"y":{"datum":-0.44,"scale":{"domain":[-0.44,8.54],"range":[363,52],"nice":false},"axis":{"orient":"left","offset":-872,"values":[0,2,4,6,8],"title":"−log₁₀(padj)","titleFontSize":40,"titlePadding":7,"labelPadding":9,"titleY":236}}}},
{"layer":[
{"mark":{"type":"rect","fill":null,"stroke":"#333","strokeWidth":2.5},"encoding":{"x":{"datum":-4.25,"scale":{"domain":[-4.25,3.75],"range":[189,504],"nice":false},"axis":null},"x2":{"datum":3.75},"y":{"datum":-5.3,"scale":{"domain":[-5.3,5.33],"range":[359,35],"nice":false},"axis":null},"y2":{"datum":5.33}}},
{"data":{"values":[{"t":"A","x":-8.44,"y":5.33}]},"mark":{"type":"text","fontSize":50},"encoding":{"x":{"field":"x","type":"quantitative","axis":null},"y":{"field":"y","type":"quantitative","axis":null},"text":{"field":"t"}}},
{"data":{"values":[{"x":-3.92,"y":-3.91,"type":"GV","time":"Young"},{"x":-3.81,"y":-4.19,"type":"GV","time":"Young"},{"x":-3.84,"y":-3.97,"type":"GV","time":"Young"},{"x":-3.43,"y":-4.3,"type":"GV","time":"Young"},{"x":-3.02,"y":-4.86,"type":"GV","time":"Young"},{"x":-3.01,"y":-3.8,"type":"GV","time":"Young"},{"x":-2.88,"y":-3.26,"type":"GV","time":"Young"},{"x":-2.88,"y":-3.75,"type":"GV","time":"Young"},{"x":-2.99,"y":-4.24,"type":"GV","time":"Young"},{"x":-2.17,"y":-4.24,"type":"GV","time":"Young"},{"x":-2.12,"y":-3.04,"type":"GV","time":"Young"},{"x":-1.91,"y":-3.15,"type":"GV","time":"Young"},{"x":-1.57,"y":-3.26,"type":"GV","time":"Young"},{"x":-1.21,"y":-2.49,"type":"GV","time":"Young"},{"x":-0.55,"y":-1.89,"type":"GV","time":"Young"},{"x":-3.16,"y":-4.3,"type":"GV","time":"Young"},
{"x":-3.65,"y":-3.86,"type":"GV","time":"Aged"},{"x":-3.1,"y":-4.3,"type":"GV","time":"Aged"},{"x":-2.88,"y":-3.15,"type":"GV","time":"Aged"},{"x":-2.88,"y":-3.69,"type":"GV","time":"Aged"},{"x":-2.74,"y":-3.86,"type":"GV","time":"Aged"},{"x":-2.63,"y":-3.56,"type":"GV","time":"Aged"},{"x":-2.59,"y":-4.3,"type":"GV","time":"Aged"},{"x":-2.65,"y":-4.4,"type":"GV","time":"Aged"},{"x":-2.31,"y":-3.97,"type":"GV","time":"Aged"},{"x":-2.54,"y":-2.98,"type":"GV","time":"Aged"},{"x":-1.99,"y":-2.44,"type":"GV","time":"Aged"},{"x":-2.5,"y":-1.02,"type":"GV","time":"Aged"},{"x":-1.91,"y":-0.45,"type":"GV","time":"Aged"},{"x":-0.87,"y":-2.33,"type":"GV","time":"Aged"},{"x":-0.7,"y":-2.22,"type":"GV","time":"Aged"},{"x":-1.8,"y":-3.23,"type":"GV","time":"Aged"},
{"x":-2.23,"y":-3.66,"type":"MI","time":"Young"},{"x":-2.03,"y":-4.11,"type":"MI","time":"Young"},{"x":-1.62,"y":-2.19,"type":"MI","time":"Young"},{"x":-1.35,"y":-1.5,"type":"MI","time":"Young"},{"x":-1.08,"y":-1.25,"type":"MI","time":"Young"},{"x":-0.88,"y":-0.6,"type":"MI","time":"Young"},{"x":-0.72,"y":-0.55,"type":"MI","time":"Young"},{"x":-0.35,"y":0.2,"type":"MI","time":"Young"},{"x":-0.01,"y":0.24,"type":"MI","time":"Young"},{"x":0.01,"y":0.71,"type":"MI","time":"Young"},{"x":0.16,"y":0.51,"type":"MI","time":"Young"},{"x":0.84,"y":0.85,"type":"MI","time":"Young"},{"x":1.02,"y":0.11,"type":"MI","time":"Young"},{"x":1.26,"y":0.51,"type":"MI","time":"Young"},{"x":1.26,"y":0.24,"type":"MI","time":"Young"},{"x":2.34,"y":-0.09,"type":"MI","time":"Young"},
{"x":-1.88,"y":-2.84,"type":"MI","time":"Aged"},{"x":-1.6,"y":-1.7,"type":"MI","time":"Aged"},{"x":-1.03,"y":-2.08,"type":"MI","time":"Aged"},{"x":-0.84,"y":-0.87,"type":"MI","time":"Aged"},{"x":-0.35,"y":-1.48,"type":"MI","time":"Aged"},{"x":-0.42,"y":1.77,"type":"MI","time":"Aged"},{"x":0.29,"y":1.31,"type":"MI","time":"Aged"},{"x":0.41,"y":1.28,"type":"MI","time":"Aged"},{"x":0.53,"y":1.33,"type":"MI","time":"Aged"},{"x":0.75,"y":1.5,"type":"MI","time":"Aged"},{"x":0.83,"y":0.59,"type":"MI","time":"Aged"},{"x":0.7,"y":-0.69,"type":"MI","time":"Aged"},{"x":1.23,"y":2.19,"type":"MI","time":"Aged"},{"x":2.24,"y":3.28,"type":"MI","time":"Aged"},{"x":2.28,"y":4.01,"type":"MI","time":"Aged"},
{"x":1.91,"y":3.07,"type":"MII","time":"Young"},{"x":1.26,"y":2.32,"type":"MII","time":"Young"},{"x":1.39,"y":2.6,"type":"MII","time":"Young"},{"x":1.99,"y":0.38,"type":"MII","time":"Young"},{"x":2.2,"y":0.3,"type":"MII","time":"Young"},{"x":2.28,"y":3.37,"type":"MII","time":"Young"},{"x":2.31,"y":4.04,"type":"MII","time":"Young"},{"x":2.79,"y":3.65,"type":"MII","time":"Young"},{"x":2.67,"y":3.79,"type":"MII","time":"Young"},{"x":3.18,"y":3.79,"type":"MII","time":"Young"},{"x":3.2,"y":4.14,"type":"MII","time":"Young"},{"x":2.82,"y":1.36,"type":"MII","time":"Young"},{"x":2.25,"y":4.09,"type":"MII","time":"Young"},
{"x":2.5,"y":4.89,"type":"MII","time":"Aged"},{"x":2.67,"y":4.85,"type":"MII","time":"Aged"},{"x":2.5,"y":4.52,"type":"MII","time":"Aged"},{"x":2.67,"y":4.52,"type":"MII","time":"Aged"},{"x":2.99,"y":4.74,"type":"MII","time":"Aged"},{"x":3.16,"y":4.74,"type":"MII","time":"Aged"},{"x":3.39,"y":4.52,"type":"MII","time":"Aged"},{"x":3.01,"y":4.45,"type":"MII","time":"Aged"},{"x":2.11,"y":4.31,"type":"MII","time":"Aged"},{"x":2.11,"y":3.9,"type":"MII","time":"Aged"},{"x":2.62,"y":3.68,"type":"MII","time":"Aged"},{"x":2.96,"y":4.07,"type":"MII","time":"Aged"},{"x":2.82,"y":1.25,"type":"MII","time":"Aged"},{"x":3.09,"y":4.5,"type":"MII","time":"Aged"}]},
"mark":{"type":"point","filled":true,"opacity":1,"size":170},
"encoding":{"x":{"field":"x","type":"quantitative","axis":null},"y":{"field":"y","type":"quantitative","axis":null},
"color":{"field":"type","type":"nominal","scale":{"domain":["GV","MI","MII"],"range":["#6A9AC6","#F0A500","#2F7D5E"]},"legend":{"orient":"none","legendX":526,"legendY":44,"title":"type","titleFontSize":33,"labelFontSize":33,"symbolType":"circle","symbolSize":170,"rowPadding":4,"titlePadding":18,"labelOffset":10}},
"shape":{"field":"time","type":"nominal","scale":{"domain":["Young","Aged"],"range":["circle","triangle-up"]},"legend":{"orient":"none","legendX":526,"legendY":246,"title":"time","titleFontSize":33,"labelFontSize":33,"symbolSize":170,"symbolFillColor":"black","symbolStrokeColor":"black","rowPadding":7,"titlePadding":10,"labelOffset":10}}}}
]},
{"layer":[
{"mark":{"type":"rect","fill":null,"stroke":"#333","strokeWidth":2.5},"encoding":{"x":{"datum":-4.13,"scale":{"domain":[-4.13,4.7],"range":[872,1182],"nice":false},"axis":null},"x2":{"datum":4.7},"y":{"datum":-0.44,"scale":{"domain":[-0.44,8.54],"range":[363,52],"nice":false},"axis":null},"y2":{"datum":8.54}}},
{"data":{"values":[{"t":"B","x":-7.09,"y":8.54}]},"mark":{"type":"text","fontSize":50},"encoding":{"x":{"field":"x","type":"quantitative","axis":null},"y":{"field":"y","type":"quantitative","axis":null},"text":{"field":"t"}}},
{"data":{"values":[{"t":"MII-stage oocytes","x":0.28,"y":9.24}]},"mark":{"type":"text","fontSize":33},"encoding":{"x":{"field":"x","type":"quantitative","axis":null},"y":{"field":"y","type":"quantitative","axis":null},"text":{"field":"t"}}},
{"data":{"values":[{"x":-0.1,"y":0.1,"c":"STABLE"},{"x":0.1,"y":0.1,"c":"STABLE"},{"x":-0.3,"y":0.1,"c":"STABLE"},{"x":0.3,"y":0.1,"c":"STABLE"},{"x":-0.5,"y":0.1,"c":"STABLE"},{"x":0.5,"y":0.1,"c":"STABLE"},{"x":-0.1,"y":0.3,"c":"STABLE"},{"x":0.1,"y":0.3,"c":"STABLE"},{"x":-0.3,"y":0.3,"c":"STABLE"},{"x":0.3,"y":0.3,"c":"STABLE"},{"x":-0.5,"y":0.3,"c":"STABLE"},{"x":0.5,"y":0.3,"c":"STABLE"},{"x":-0.7,"y":0.3,"c":"STABLE"},{"x":0.7,"y":0.3,"c":"STABLE"},{"x":-0.85,"y":0.3,"c":"STABLE"},{"x":0.85,"y":0.3,"c":"STABLE"},
{"x":-0.15,"y":0.5,"c":"STABLE"},{"x":0.15,"y":0.5,"c":"STABLE"},{"x":-0.35,"y":0.5,"c":"STABLE"},{"x":0.35,"y":0.5,"c":"STABLE"},{"x":-0.55,"y":0.5,"c":"STABLE"},{"x":0.55,"y":0.5,"c":"STABLE"},{"x":-0.75,"y":0.5,"c":"STABLE"},{"x":0.75,"y":0.5,"c":"STABLE"},{"x":-0.95,"y":0.5,"c":"STABLE"},{"x":0.95,"y":0.5,"c":"STABLE"},{"x":-1.1,"y":0.5,"c":"STABLE"},{"x":1.1,"y":0.5,"c":"STABLE"},
{"x":-0.2,"y":0.7,"c":"STABLE"},{"x":0.2,"y":0.7,"c":"STABLE"},{"x":-0.4,"y":0.7,"c":"STABLE"},{"x":0.4,"y":0.7,"c":"STABLE"},{"x":-0.6,"y":0.7,"c":"STABLE"},{"x":0.6,"y":0.7,"c":"STABLE"},{"x":-0.8,"y":0.7,"c":"STABLE"},{"x":0.8,"y":0.7,"c":"STABLE"},{"x":-1,"y":0.7,"c":"STABLE"},{"x":1,"y":0.7,"c":"STABLE"},{"x":-1.25,"y":0.7,"c":"STABLE"},{"x":1.25,"y":0.7,"c":"STABLE"},{"x":-1.45,"y":0.7,"c":"STABLE"},
{"x":-0.25,"y":0.9,"c":"STABLE"},{"x":0.25,"y":0.9,"c":"STABLE"},{"x":-0.45,"y":0.9,"c":"STABLE"},{"x":0.45,"y":0.9,"c":"STABLE"},{"x":-0.65,"y":0.9,"c":"STABLE"},{"x":0.65,"y":0.9,"c":"STABLE"},{"x":-0.85,"y":0.9,"c":"STABLE"},{"x":0.85,"y":0.9,"c":"STABLE"},{"x":-1.05,"y":0.9,"c":"STABLE"},{"x":1.05,"y":0.9,"c":"STABLE"},{"x":-1.3,"y":0.9,"c":"STABLE"},{"x":1.3,"y":0.9,"c":"STABLE"},{"x":-1.5,"y":0.9,"c":"STABLE"},{"x":-1.7,"y":0.9,"c":"STABLE"},
{"x":-0.3,"y":1.1,"c":"STABLE"},{"x":0.3,"y":1.1,"c":"STABLE"},{"x":-0.5,"y":1.1,"c":"STABLE"},{"x":0.5,"y":1.1,"c":"STABLE"},{"x":-0.7,"y":1.1,"c":"STABLE"},{"x":0.7,"y":1.1,"c":"STABLE"},{"x":-0.9,"y":1.1,"c":"STABLE"},{"x":0.9,"y":1.1,"c":"STABLE"},{"x":-1.1,"y":1.1,"c":"STABLE"},{"x":1.1,"y":1.1,"c":"STABLE"},{"x":-1.35,"y":1.1,"c":"STABLE"},{"x":1.35,"y":1.1,"c":"STABLE"},{"x":-1.6,"y":1.1,"c":"STABLE"},{"x":1.6,"y":1.1,"c":"STABLE"},{"x":-1.85,"y":1.1,"c":"STABLE"},{"x":-2.1,"y":1.0,"c":"STABLE"},
{"x":-0.35,"y":1.3,"c":"STABLE"},{"x":0.35,"y":1.3,"c":"STABLE"},{"x":-0.55,"y":1.3,"c":"STABLE"},{"x":0.55,"y":1.3,"c":"STABLE"},{"x":-0.75,"y":1.3,"c":"STABLE"},{"x":0.75,"y":1.3,"c":"STABLE"},{"x":-0.95,"y":1.3,"c":"STABLE"},{"x":0.95,"y":1.3,"c":"STABLE"},
{"x":-0.38,"y":1.5,"c":"STABLE"},{"x":0.38,"y":1.5,"c":"STABLE"},{"x":-0.55,"y":1.5,"c":"STABLE"},{"x":0.55,"y":1.5,"c":"STABLE"},{"x":-0.75,"y":1.5,"c":"STABLE"},{"x":0.75,"y":1.5,"c":"STABLE"},{"x":-0.95,"y":1.5,"c":"STABLE"},{"x":0.95,"y":1.5,"c":"STABLE"},
{"x":-0.42,"y":1.7,"c":"STABLE"},{"x":0.42,"y":1.7,"c":"STABLE"},{"x":-0.6,"y":1.7,"c":"STABLE"},{"x":0.6,"y":1.7,"c":"STABLE"},{"x":-0.8,"y":1.7,"c":"STABLE"},{"x":0.8,"y":1.7,"c":"STABLE"},{"x":-0.95,"y":1.7,"c":"STABLE"},{"x":0.95,"y":1.7,"c":"STABLE"},
{"x":-0.45,"y":1.9,"c":"STABLE"},{"x":0.45,"y":1.9,"c":"STABLE"},{"x":-0.65,"y":1.9,"c":"STABLE"},{"x":0.65,"y":1.9,"c":"STABLE"},{"x":-0.8,"y":1.9,"c":"STABLE"},{"x":0.8,"y":1.9,"c":"STABLE"},{"x":-0.95,"y":1.9,"c":"STABLE"},{"x":0.95,"y":1.9,"c":"STABLE"},
{"x":-0.5,"y":2.1,"c":"STABLE"},{"x":0.5,"y":2.1,"c":"STABLE"},{"x":-0.7,"y":2.1,"c":"STABLE"},{"x":0.7,"y":2.1,"c":"STABLE"},{"x":-0.9,"y":2.1,"c":"STABLE"},{"x":0.9,"y":2.1,"c":"STABLE"},{"x":-0.55,"y":2.3,"c":"STABLE"},{"x":0.55,"y":2.3,"c":"STABLE"},{"x":-0.75,"y":2.3,"c":"STABLE"},{"x":0.75,"y":2.3,"c":"STABLE"},{"x":-0.95,"y":2.3,"c":"STABLE"},{"x":0.95,"y":2.3,"c":"STABLE"},{"x":-0.55,"y":2.5,"c":"STABLE"},{"x":0.55,"y":2.5,"c":"STABLE"},{"x":-0.7,"y":2.5,"c":"STABLE"},{"x":0.7,"y":2.5,"c":"STABLE"},{"x":-0.9,"y":2.5,"c":"STABLE"},{"x":0.9,"y":2.5,"c":"STABLE"},{"x":-0.8,"y":2.7,"c":"STABLE"},{"x":-0.95,"y":2.7,"c":"STABLE"},{"x":0.6,"y":2.6,"c":"STABLE"},{"x":-0.85,"y":2.9,"c":"STABLE"},{"x":0.71,"y":2.89,"c":"STABLE"},
{"x":-0.75,"y":7.1,"c":"STABLE"},{"x":0.59,"y":5.87,"c":"STABLE"},{"x":-0.57,"y":5.08,"c":"STABLE"},{"x":0.86,"y":5.08,"c":"STABLE"},{"x":-0.9,"y":4.45,"c":"STABLE"},{"x":0.71,"y":4.1,"c":"STABLE"},{"x":0.83,"y":3.83,"c":"STABLE"},{"x":0.65,"y":3.75,"c":"STABLE"},{"x":-0.53,"y":3.38,"c":"STABLE"},{"x":0.59,"y":3.39,"c":"STABLE"},{"x":0.71,"y":3.3,"c":"STABLE"},{"x":-0.91,"y":3.27,"c":"STABLE"},{"x":3.52,"y":0.7,"c":"STABLE"},{"x":2.5,"y":0.99,"c":"STABLE"},{"x":1.96,"y":0.8,"c":"STABLE"},{"x":1.84,"y":0.62,"c":"STABLE"},
{"x":-2.95,"y":8.11,"c":"DOWN"},{"x":-2.93,"y":7.39,"c":"DOWN"},{"x":-1.95,"y":7.1,"c":"DOWN"},{"x":-1.52,"y":5.88,"c":"DOWN"},{"x":-1.11,"y":5.47,"c":"DOWN"},{"x":-3.75,"y":3.99,"c":"DOWN"},{"x":-2.25,"y":3.92,"c":"DOWN"},{"x":-1.77,"y":3.9,"c":"DOWN"},{"x":-2.11,"y":3.73,"c":"DOWN"},{"x":-2.01,"y":3.75,"c":"DOWN"},{"x":-1.32,"y":3.9,"c":"DOWN"},{"x":-1.15,"y":4.1,"c":"DOWN"},{"x":-2.47,"y":1.93,"c":"DOWN"},{"x":-2.02,"y":1.52,"c":"DOWN"},{"x":-2.02,"y":1.33,"c":"DOWN"},{"x":-2.13,"y":2.43,"c":"DOWN"},{"x":-2.17,"y":2.24,"c":"DOWN"},
{"x":-1.05,"y":1.4,"c":"DOWN"},{"x":-1.2,"y":1.4,"c":"DOWN"},{"x":-1.35,"y":1.4,"c":"DOWN"},{"x":-1.5,"y":1.4,"c":"DOWN"},{"x":-1.65,"y":1.4,"c":"DOWN"},{"x":-1.05,"y":1.55,"c":"DOWN"},{"x":-1.2,"y":1.55,"c":"DOWN"},{"x":-1.35,"y":1.55,"c":"DOWN"},{"x":-1.5,"y":1.55,"c":"DOWN"},{"x":-1.65,"y":1.55,"c":"DOWN"},{"x":-1.05,"y":1.7,"c":"DOWN"},{"x":-1.2,"y":1.7,"c":"DOWN"},{"x":-1.35,"y":1.7,"c":"DOWN"},{"x":-1.5,"y":1.7,"c":"DOWN"},{"x":-1.7,"y":1.7,"c":"DOWN"},{"x":-1.05,"y":1.9,"c":"DOWN"},{"x":-1.2,"y":1.9,"c":"DOWN"},{"x":-1.35,"y":1.9,"c":"DOWN"},{"x":-1.5,"y":1.9,"c":"DOWN"},{"x":-1.65,"y":1.9,"c":"DOWN"},{"x":-1.8,"y":1.9,"c":"DOWN"},{"x":-1.05,"y":2.1,"c":"DOWN"},{"x":-1.2,"y":2.1,"c":"DOWN"},{"x":-1.35,"y":2.1,"c":"DOWN"},{"x":-1.5,"y":2.1,"c":"DOWN"},{"x":-1.9,"y":2.1,"c":"DOWN"},{"x":-1.05,"y":2.3,"c":"DOWN"},{"x":-1.2,"y":2.3,"c":"DOWN"},{"x":-1.35,"y":2.3,"c":"DOWN"},{"x":-1.6,"y":2.3,"c":"DOWN"},{"x":-1.8,"y":2.3,"c":"DOWN"},{"x":-2,"y":2.3,"c":"DOWN"},{"x":-1.1,"y":2.5,"c":"DOWN"},{"x":-1.3,"y":2.5,"c":"DOWN"},{"x":-1.6,"y":2.5,"c":"DOWN"},{"x":-2,"y":2.5,"c":"DOWN"},{"x":-1.1,"y":2.7,"c":"DOWN"},{"x":-1.3,"y":2.7,"c":"DOWN"},{"x":-1.6,"y":2.7,"c":"DOWN"},{"x":-1.05,"y":2.95,"c":"DOWN"},{"x":-1.2,"y":2.95,"c":"DOWN"},{"x":-1.4,"y":2.95,"c":"DOWN"},{"x":-1.2,"y":3.2,"c":"DOWN"},{"x":-1.4,"y":3.2,"c":"DOWN"},{"x":-1.6,"y":3.2,"c":"DOWN"},{"x":-1.5,"y":3.4,"c":"DOWN"},{"x":-1.15,"y":3.4,"c":"DOWN"},{"x":-1.65,"y":3.55,"c":"DOWN"},{"x":-1.5,"y":3.6,"c":"DOWN"},{"x":-1.3,"y":3.6,"c":"DOWN"},{"x":-1.15,"y":3.55,"c":"DOWN"},
{"x":3.08,"y":8.13,"c":"UP"},{"x":2.14,"y":7.1,"c":"UP"},{"x":3.68,"y":6.92,"c":"UP"},{"x":1.23,"y":5.01,"c":"UP"},{"x":2.02,"y":4.43,"c":"UP"},{"x":3.69,"y":4.26,"c":"UP"},{"x":4.3,"y":4.19,"c":"UP"},{"x":1.13,"y":3.75,"c":"UP"},{"x":1.39,"y":3.42,"c":"UP"},{"x":2.63,"y":3.48,"c":"UP"},{"x":1.03,"y":3.2,"c":"UP"},{"x":1.22,"y":3.09,"c":"UP"},{"x":1.44,"y":3.07,"c":"UP"},{"x":1.25,"y":2.93,"c":"UP"},{"x":1.81,"y":3.03,"c":"UP"},{"x":2.57,"y":2.91,"c":"UP"},{"x":1.49,"y":2.65,"c":"UP"},{"x":1.7,"y":2.52,"c":"UP"},{"x":1.25,"y":2.43,"c":"UP"},{"x":1.9,"y":2.4,"c":"UP"},{"x":1.9,"y":2.21,"c":"UP"},{"x":1.6,"y":2.21,"c":"UP"},{"x":2.38,"y":2.34,"c":"UP"},{"x":2.61,"y":2.14,"c":"UP"},{"x":2.65,"y":1.95,"c":"UP"},{"x":2.4,"y":1.84,"c":"UP"},{"x":2.36,"y":1.62,"c":"UP"},{"x":1.07,"y":2.29,"c":"UP"},{"x":1.07,"y":2.05,"c":"UP"},{"x":1.07,"y":1.86,"c":"UP"},{"x":1.07,"y":1.66,"c":"UP"},{"x":1.25,"y":1.95,"c":"UP"},{"x":1.58,"y":1.79,"c":"UP"},{"x":1.31,"y":1.76,"c":"UP"},{"x":1.43,"y":1.62,"c":"UP"},{"x":1.07,"y":1.45,"c":"UP"},{"x":1.31,"y":1.42,"c":"UP"},{"x":1.31,"y":1.28,"c":"UP"},{"x":1.51,"y":1.52,"c":"UP"},{"x":1.96,"y":1.79,"c":"UP"},{"x":2.02,"y":1.62,"c":"UP"},{"x":1.96,"y":1.52,"c":"UP"},{"x":2.06,"y":1.42,"c":"UP"},{"x":2.14,"y":1.33,"c":"UP"},{"x":2.59,"y":1.26,"c":"UP"},{"x":1.66,"y":1.37,"c":"UP"}]},
"mark":{"type":"point","filled":true,"opacity":1,"size":64},
"encoding":{"x":{"field":"x","type":"quantitative","axis":null},"y":{"field":"y","type":"quantitative","axis":null},
"color":{"field":"c","type":"nominal","scale":{"domain":["UP","STABLE","DOWN"],"range":["#A6192E","#BDBDBD","#23478F"]},"legend":{"orient":"none","legendX":1208,"legendY":147,"title":"change","titleFontSize":33,"labelFontSize":25,"symbolType":"circle","symbolSize":60,"rowPadding":21,"titlePadding":20,"labelOffset":7}}}},
{"data":{"values":[{"x":-1.04},{"x":1.02}]},"mark":{"type":"rule","color":"#666","strokeWidth":1.5,"strokeDash":[16,10]},"encoding":{"x":{"field":"x","type":"quantitative","axis":null},"y":{"datum":-0.44,"axis":null},"y2":{"datum":8.54}}},
{"mark":{"type":"rule","color":"#888","strokeWidth":1.5,"strokeDash":[16,10]},"encoding":{"x":{"datum":-4.13,"axis":null},"x2":{"datum":4.7},"y":{"datum":1.25,"axis":null}}}
]},
{"layer":[
{"data":{"name":"strips"},"mark":{"type":"rect","stroke":"#222","strokeWidth":1},"encoding":{"x":{"field":"l","type":"quantitative","scale":{"domain":[186,1197],"range":[1442,1944],"nice":false},"axis":null},"x2":{"field":"r"},"y":{"field":"t","type":"quantitative","scale":{"domain":[82,1542],"range":[30.5,573],"nice":false},"axis":null},"y2":{"field":"b"},"fill":{"field":"s","type":"nominal","scale":{"domain":["GV","MI","MII"],"range":["#6A9AC6","#F0A500","#2F7D5E"]},"legend":null}}},
{"data":{"name":"strips"},"mark":{"type":"rect","fill":"white","stroke":"#222","strokeWidth":2},"encoding":{"x":{"field":"l","type":"quantitative","axis":null},"x2":{"field":"r"},"y":{"field":"b","type":"quantitative","axis":null},"y2":{"field":"e"}}},
{"data":{"name":"strips"},"mark":{"type":"text","fontSize":20,"color":"#111"},"encoding":{"x":{"field":"m","type":"quantitative","axis":null},"y":{"field":"b","type":"quantitative","axis":null},"yOffset":{"value":-13},"text":{"field":"s"}}},
{"data":{"values":[{"l":186,"r":672,"y":82},{"l":707,"r":1193,"y":82},{"l":190,"r":676,"y":858},{"l":712,"r":1198,"y":858}]},"mark":{"type":"rule","color":"#888","strokeWidth":2},"encoding":{"x":{"field":"l","type":"quantitative","axis":null},"x2":{"field":"r"},"y":{"field":"y","type":"quantitative","axis":null}}},
{"data":{"values":[{"t":"Bora","x":438,"y":56},{"t":"Ndufb1","x":952,"y":54},{"t":"Prdx5","x":418,"y":820},{"t":"Rps17","x":960,"y":820}]},"mark":{"type":"text","fontSize":31,"fontStyle":"italic"},"encoding":{"x":{"field":"x","type":"quantitative","axis":null},"y":{"field":"y","type":"quantitative","axis":null},"text":{"field":"t"}}},
{"data":{"values":[{"t":"C","x":62,"y":105}]},"mark":{"type":"text","fontSize":50},"encoding":{"x":{"field":"x","type":"quantitative","axis":null},"y":{"field":"y","type":"quantitative","axis":null},"text":{"field":"t"}}},
{"data":{"name":"brackets"},"mark":{"type":"rule","color":"#444","strokeWidth":1},"encoding":{"x":{"field":"a","type":"quantitative","axis":null},"x2":{"field":"b"},"y":{"field":"y","type":"quantitative","axis":null}}},
{"data":{"name":"brackets"},"mark":{"type":"rule","color":"#444","strokeWidth":1},"encoding":{"x":{"field":"a","type":"quantitative","axis":null},"y":{"field":"y","type":"quantitative","axis":null},"y2":{"field":"e"}}},
{"data":{"name":"brackets"},"mark":{"type":"rule","color":"#444","strokeWidth":1},"encoding":{"x":{"field":"b","type":"quantitative","axis":null},"y":{"field":"y","type":"quantitative","axis":null},"y2":{"field":"e"}}},
{"data":{"name":"brackets"},"mark":{"type":"text","fontSize":14,"color":"#222"},"encoding":{"x":{"field":"m","type":"quantitative","axis":null},"y":{"field":"n","type":"quantitative","axis":null},"text":{"field":"t"}}},
{"data":{"name":"violins"},"mark":{"type":"area","orient":"horizontal","interpolate":"monotone","stroke":"#777","strokeWidth":1,"opacity":1},"encoding":{"x":{"field":"l","type":"quantitative","axis":null},"x2":{"field":"h"},"y":{"field":"e","type":"quantitative","axis":null},"detail":{"field":"v"},"color":{"field":"t","type":"nominal","scale":{"domain":["Young","Aged"],"range":["#EFA47C","#6E9BDD"]},"legend":{"orient":"none","legendX":1998,"legendY":410,"title":null,"labelFontSize":24,"symbolType":"square","symbolSize":420,"symbolStrokeColor":"#777","rowPadding":11,"labelOffset":12}}}},
{"data":{"name":"boxes"},"mark":{"type":"rule","color":"#444","strokeWidth":1},"encoding":{"x":{"field":"c","type":"quantitative","axis":null},"y":{"field":"u","type":"quantitative","axis":null},"y2":{"field":"d"}}},
{"data":{"name":"boxes"},"mark":{"type":"bar","size":8,"orient":"vertical","fillOpacity":0.35,"fill":"#ddd","stroke":"#444","strokeWidth":1},"encoding":{"x":{"field":"c","type":"quantitative","axis":null},"y":{"field":"a","type":"quantitative","axis":null},"y2":{"field":"b"}}},
{"data":{"name":"boxes"},"mark":{"type":"tick","orient":"horizontal","size":8,"thickness":1,"color":"#444"},"encoding":{"x":{"field":"c","type":"quantitative","axis":null},"y":{"field":"m","type":"quantitative","axis":null}}},
{"data":{"name":"boxes"},"transform":[{"filter":"datum.o!=null"}],"mark":{"type":"point","filled":true,"color":"#222","size":22,"opacity":1},"encoding":{"x":{"field":"c","type":"quantitative","axis":null},"y":{"field":"o","type":"quantitative","axis":null}}}
]},
{"data":{"values":[{"g":"Young","a":0,"b":8,"m":3.2},{"g":"Aged","a":8,"b":16,"m":11.9}]},"layer":[
{"mark":"rect","encoding":{"x":{"field":"a","type":"quantitative","scale":{"domain":[0,16],"range":[115,329],"nice":false},"axis":null},"x2":{"field":"b"},"y":{"datum":0,"scale":{"domain":[0,1],"range":[542,525],"nice":false},"axis":null},"y2":{"datum":1},"color":{"field":"g","type":"nominal","scale":{"domain":["Young","Aged"],"range":["#EBA27C","#7197DB"]},"legend":null}}},
{"mark":{"type":"text","fontSize":33},"encoding":{"x":{"field":"m","type":"quantitative","axis":null},"y":{"datum":2.47,"axis":null},"text":{"field":"g"}}},
{"data":{"values":[{"t":"D","x":-5.3,"y":3.41}]},"mark":{"type":"text","fontSize":50},"encoding":{"x":{"field":"x","type":"quantitative","axis":null},"y":{"field":"y","type":"quantitative","axis":null},"text":{"field":"t"}}}
]},
{"data":{"values":[{"g":"Young","a":0,"b":8,"m":3.2},{"g":"Aged","a":8,"b":16,"m":12.1}]},"layer":[
{"mark":"rect","encoding":{"x":{"field":"a","type":"quantitative","scale":{"domain":[0,16],"range":[378,592],"nice":false},"axis":null},"x2":{"field":"b"},"y":{"datum":0,"scale":{"domain":[0,1],"range":[542,525],"nice":false},"axis":null},"y2":{"datum":1},"color":{"field":"g","type":"nominal","scale":{"domain":["Young","Aged"],"range":["#EBA27C","#7197DB"]},"legend":null}}},
{"mark":{"type":"text","fontSize":33},"encoding":{"x":{"field":"m","type":"quantitative","axis":null},"y":{"datum":2.47,"axis":null},"text":{"field":"g"}}}
]},
{"data":{"name":"brown"},"mark":"rect","encoding":{"x":{"field":"c","type":"ordinal","scale":{"range":[115,329]},"axis":null},"y":{"field":"r","type":"ordinal","scale":{"range":[547,1410]},"axis":null},"color":{"field":"v","type":"quantitative","scale":{"domain":[-2,0,2],"range":["#5FA8D3","#ffffff","#E53B2F"],"interpolate":"rgb"},"legend":{"orient":"none","legendX":604,"legendY":670,"title":["Exprssion","Level"],"titleFontSize":25,"titleLineHeight":31,"titlePadding":26,"labelFontSize":26,"gradientLength":188,"gradientThickness":13,"values":[-2,-1,0,1,2],"labelOffset":10,"labelOverlap":false}}}},
{"data":{"name":"purple"},"mark":"rect","encoding":{"x":{"field":"c","type":"ordinal","scale":{"range":[115,329]},"axis":null},"y":{"field":"r","type":"ordinal","scale":{"range":[1421,1840]},"axis":null},"color":{"field":"v","type":"quantitative","scale":{"domain":[-2,0,2],"range":["#5FA8D3","#ffffff","#E53B2F"],"interpolate":"rgb"},"legend":null}}},
{"data":{"name":"green"},"mark":"rect","encoding":{"x":{"field":"c","type":"ordinal","scale":{"range":[378,592]},"axis":null},"y":{"field":"r","type":"ordinal","scale":{"range":[547,1057]},"axis":null},"color":{"field":"v","type":"quantitative","scale":{"domain":[-2,0,2],"range":["#5FA8D3","#ffffff","#E53B2F"],"interpolate":"rgb"},"legend":null}}},
{"data":{"name":"gold"},"mark":"rect","encoding":{"x":{"field":"c","type":"ordinal","scale":{"range":[378,592]},"axis":null},"y":{"field":"r","type":"ordinal","scale":{"range":[1072,1648]},"axis":null},"color":{"field":"v","type":"quantitative","scale":{"domain":[-2,0,2],"range":["#5FA8D3","#ffffff","#E53B2F"],"interpolate":"rgb"},"legend":null}}},
{"data":{"values":[{"p":"structural constituent of ribosome","a":0,"b":1,"t":0,"u":0.6674},{"p":"ATP metabolic process","a":0,"b":1,"t":0.6759,"u":1},{"p":"oxidative phosphorylation","a":21.9,"b":22.9,"t":0,"u":0.3944},{"p":"calcium ion binding","a":21.9,"b":22.9,"t":0.406,"u":0.8515}]},"mark":"rect","encoding":{"x":{"field":"a","type":"quantitative","scale":{"domain":[0,22],"range":[103,367],"nice":false},"axis":null},"x2":{"field":"b"},"y":{"field":"t","type":"quantitative","scale":{"domain":[0,1],"range":[547,1840],"nice":false},"axis":null},"y2":{"field":"u"},"color":{"field":"p","type":"nominal","scale":{"domain":["structural constituent of ribosome","oxidative phosphorylation","ATP metabolic process","calcium ion binding"],"range":["#5F3512","#4F7A52","#654F92","#BC8C05"]},"legend":{"orient":"none","legendX":365,"legendY":1660,"title":"Special pathway","titleFontSize":29,"titleLimit":500,"labelFontSize":26,"labelLimit":500,"symbolType":"M-0.3,-0.5H0.3V0.5H-0.3Z","symbolSize":1600,"symbolOpacity":1,"symbolOffset":-11,"rowPadding":-3.5,"titlePadding":8,"labelOffset":-15}}}},
{"mark":{"type":"rule","opacity":0},"encoding":{"x":{"datum":1.55,"scale":{"domain":[1.55,12.5],"range":[771,1082],"nice":false},"axis":{"orient":"bottom","offset":-941,"values":[2.5,5,7.5,10,12.5],"format":".1f","title":"Count","titleFontSize":24,"labelFontSize":24,"labelColor":"#4d4d4d","tickSize":5,"tickWidth":3,"titlePadding":0,"labelPadding":2}}}},
{"data":{"name":"eu"},"mark":{"type":"rule","opacity":0},"encoding":{"y":{"field":"term","type":"nominal","sort":null,"scale":{"type":"point","padding":0,"range":[666,905]},"axis":{"orient":"right","offset":-1046,"title":null,"labelExpr":"split(datum.label,'|')","labelFontSize":24,"labelColor":"#4d4d4d","labelLimit":500,"tickSize":5,"tickWidth":3,"labelPadding":2,"labelLineHeight":20}}}},
{"layer":[
{"data":{"values":[{"v":2.5},{"v":5},{"v":7.5},{"v":10},{"v":12.5}]},"mark":{"type":"rule","color":"#ebebeb","strokeWidth":3.5},"encoding":{"x":{"field":"v","type":"quantitative","scale":{"domain":[1.55,12.5],"range":[771,1082],"nice":false},"axis":null},"y":{"datum":0,"scale":{"domain":[0,1],"range":[933,638],"nice":false},"axis":null},"y2":{"datum":1}}},
{"data":{"values":[{"v":3.75},{"v":6.25},{"v":8.75},{"v":11.25}]},"mark":{"type":"rule","color":"#ebebeb","strokeWidth":1.5},"encoding":{"x":{"field":"v","type":"quantitative","axis":null},"y":{"datum":0,"axis":null},"y2":{"datum":1}}},
{"mark":{"type":"rect","fill":null,"stroke":"#333","strokeWidth":3},"encoding":{"x":{"datum":1.55,"axis":null},"x2":{"datum":12.5},"y":{"datum":0,"axis":null},"y2":{"datum":1}}},
{"data":{"values":[{"t":"Up","x":11.6,"y":1.09}]},"mark":{"type":"text","fontSize":37,"fontWeight":"bold","color":"#A6192E"},"encoding":{"x":{"field":"x","type":"quantitative","axis":null},"y":{"field":"y","type":"quantitative","axis":null},"text":{"field":"t"}}},
{"data":{"values":[{"t":"E","x":-0.1,"y":1.09}]},"mark":{"type":"text","fontSize":50},"encoding":{"x":{"field":"x","type":"quantitative","axis":null},"y":{"field":"y","type":"quantitative","axis":null},"text":{"field":"t"}}}
]},
{"data":{"name":"eu"},"layer":[
{"mark":{"type":"rule","color":"#ebebeb","strokeWidth":3.5},"encoding":{"x":{"datum":1.55,"scale":{"domain":[1.55,12.5],"range":[771,1082],"nice":false},"axis":null},"x2":{"datum":12.5},"y":{"field":"term","type":"nominal","sort":null,"scale":{"type":"point","padding":0,"range":[666,905]},"axis":null}}},
{"mark":{"type":"point","filled":true,"opacity":1},"encoding":{"x":{"field":"count","type":"quantitative","axis":null},"y":{"field":"term","type":"nominal","sort":null,"axis":null},"size":{"field":"count","type":"quantitative","scale":{"domain":[2,12],"range":[49,784]},"legend":null},"color":{"field":"p","type":"quantitative","scale":{"domain":[3.8,1.44],"range":["#EE9F7B","#3A4B8F"],"interpolate":"rgb"},"legend":null}}}
]},
{"mark":{"type":"rule","opacity":0},"encoding":{"x":{"datum":3.8,"scale":{"domain":[3.8,1.44],"range":[930,1100],"nice":false},"axis":{"orient":"top","offset":-1029,"values":[3.5,3,2.5,2,1.5],"format":".1f","title":null,"ticks":false,"labelFontSize":23,"labelPadding":3}}}},
{"layer":[
{"mark":{"type":"rect","color":{"gradient":"linear","x1":0,"x2":1,"y1":0,"y2":0,"stops":[{"offset":0,"color":"#EE9F7B"},{"offset":1,"color":"#3A4B8F"}]}},"encoding":{"x":{"datum":3.8,"scale":{"domain":[3.8,1.44],"range":[930,1100],"nice":false},"axis":null},"x2":{"datum":1.44},"y":{"datum":0,"scale":{"domain":[0,1],"range":[1051,1029],"nice":false},"axis":null},"y2":{"datum":1}}},
{"data":{"values":[{"v":3.5},{"v":3},{"v":2.5},{"v":2},{"v":1.5}]},"mark":{"type":"rule","color":"white","strokeWidth":1.5},"encoding":{"x":{"field":"v","type":"quantitative","axis":null},"y":{"datum":0,"axis":null},"y2":{"datum":1}}},
{"data":{"values":[{"t":"−log₁₀(pvalue)","x":3.87},{"t":"count","x":0.04}]},"mark":{"type":"text","align":"right","fontSize":24},"encoding":{"x":{"field":"x","type":"quantitative","axis":null},"y":{"datum":0.5,"axis":null},"text":{"field":"t"}}}
]},
{"data":{"values":[{"n":2},{"n":4},{"n":6},{"n":8},{"n":10},{"n":12}]},"mark":{"type":"point","filled":true,"color":"black","opacity":1},"encoding":{"x":{"field":"n","type":"ordinal","scale":{"type":"point","padding":0,"range":[1218,1350]},"axis":{"orient":"top","offset":-1020,"title":null,"ticks":false,"labelAngle":0,"labelFontSize":24,"labelPadding":0}},"y":{"datum":0,"scale":{"domain":[-1,1],"range":[1043,1023],"nice":false},"axis":null},"size":{"field":"n","type":"quantitative","scale":{"domain":[2,12],"range":[49,784]},"legend":null}}},
{"mark":{"type":"rule","opacity":0},"encoding":{"x":{"datum":2.18,"scale":{"domain":[2.18,22.8],"range":[775,1068],"nice":false},"axis":{"orient":"bottom","offset":-463,"values":[5,10,15,20],"title":"Count","titleFontSize":24,"labelFontSize":24,"labelColor":"#4d4d4d","tickSize":5,"tickWidth":3,"titlePadding":0,"labelPadding":2}}}},
{"data":{"name":"ed"},"mark":{"type":"rule","opacity":0},"encoding":{"y":{"field":"term","type":"nominal","sort":null,"scale":{"type":"point","padding":0,"range":[1143,1383]},"axis":{"orient":"right","offset":-1060,"title":null,"labelExpr":"split(datum.label,'|')","labelFontSize":{"condition":{"test":"length(datum.label)>50","value":20},"value":24},"labelColor":"#4d4d4d","labelLimit":500,"tickSize":5,"tickWidth":3,"labelPadding":3,"labelLineHeight":20}}}},
{"layer":[
{"data":{"values":[{"v":5},{"v":10},{"v":15},{"v":20}]},"mark":{"type":"rule","color":"#ebebeb","strokeWidth":3.5},"encoding":{"x":{"field":"v","type":"quantitative","scale":{"domain":[2.18,22.8],"range":[775,1068],"nice":false},"axis":null},"y":{"datum":0,"scale":{"domain":[0,1],"range":[1411,1116],"nice":false},"axis":null},"y2":{"datum":1}}},
{"data":{"values":[{"v":7.5},{"v":12.5},{"v":17.5}]},"mark":{"type":"rule","color":"#ebebeb","strokeWidth":1.5},"encoding":{"x":{"field":"v","type":"quantitative","axis":null},"y":{"datum":0,"axis":null},"y2":{"datum":1}}},
{"mark":{"type":"rect","fill":null,"stroke":"#333","strokeWidth":3},"encoding":{"x":{"datum":2.18,"axis":null},"x2":{"datum":22.8},"y":{"datum":0,"axis":null},"y2":{"datum":1}}},
{"data":{"values":[{"t":"Down","x":19.15,"y":1.095}]},"mark":{"type":"text","fontSize":37,"fontWeight":"bold","color":"#1F4A93"},"encoding":{"x":{"field":"x","type":"quantitative","axis":null},"y":{"field":"y","type":"quantitative","axis":null},"text":{"field":"t"}}}
]},
{"data":{"name":"ed"},"layer":[
{"mark":{"type":"rule","color":"#ebebeb","strokeWidth":3.5},"encoding":{"x":{"datum":2.18,"scale":{"domain":[2.18,22.8],"range":[775,1068],"nice":false},"axis":null},"x2":{"datum":22.8},"y":{"field":"term","type":"nominal","sort":null,"scale":{"type":"point","padding":0,"range":[1143,1383]},"axis":null}}},
{"mark":{"type":"point","filled":true,"opacity":1},"encoding":{"x":{"field":"count","type":"quantitative","axis":null},"y":{"field":"term","type":"nominal","sort":null,"axis":null},"size":{"field":"count","type":"quantitative","scale":{"domain":[3,22],"range":[49,784]},"legend":null},"color":{"field":"p","type":"quantitative","scale":{"domain":[11.75,2.2],"range":["#EE9F7B","#3A4B8F"],"interpolate":"rgb"},"legend":null}}}
]},
{"mark":{"type":"rule","opacity":0},"encoding":{"x":{"datum":11.75,"scale":{"domain":[11.75,2.2],"range":[935,1066],"nice":false},"axis":{"orient":"top","offset":-1496,"values":[10,8,6,4],"title":null,"ticks":false,"labelFontSize":24,"labelPadding":3}}}},
{"layer":[
{"mark":{"type":"rect","color":{"gradient":"linear","x1":0,"x2":1,"y1":0,"y2":0,"stops":[{"offset":0,"color":"#EE9F7B"},{"offset":1,"color":"#3A4B8F"}]}},"encoding":{"x":{"datum":11.75,"scale":{"domain":[11.75,2.2],"range":[935,1066],"nice":false},"axis":null},"x2":{"datum":2.2},"y":{"datum":0,"scale":{"domain":[0,1],"range":[1517,1496],"nice":false},"axis":null},"y2":{"datum":1}}},
{"data":{"values":[{"v":10},{"v":8},{"v":6},{"v":4}]},"mark":{"type":"rule","color":"white","strokeWidth":1.5},"encoding":{"x":{"field":"v","type":"quantitative","axis":null},"y":{"datum":0,"axis":null},"y2":{"datum":1}}},
{"data":{"values":[{"t":"−log₁₀(pvalue)","x":12.33},{"t":"count","x":-5.09}]},"mark":{"type":"text","align":"right","fontSize":24},"encoding":{"x":{"field":"x","type":"quantitative","axis":null},"y":{"datum":0.5,"axis":null},"text":{"field":"t"}}}
]},
{"data":{"values":[{"n":5},{"n":10},{"n":15},{"n":20}]},"mark":{"type":"point","filled":true,"color":"black","opacity":1},"encoding":{"x":{"field":"n","type":"ordinal","scale":{"type":"point","padding":0,"range":[1187,1265]},"axis":{"orient":"top","offset":-1491,"title":null,"ticks":false,"labelAngle":0,"labelFontSize":24,"labelPadding":0}},"y":{"datum":0,"scale":{"domain":[-1,1],"range":[1517,1497],"nice":false},"axis":null},"size":{"field":"n","type":"quantitative","scale":{"domain":[3,22],"range":[49,784]},"legend":null}}},
{"mark":{"type":"rule","opacity":0},"encoding":{"x":{"datum":1.2,"scale":{"domain":[1.2,45.9],"range":[1465,1769],"nice":false},"axis":{"orient":"bottom","offset":-927,"values":[10,20,30,40],"title":"Count","titleFontSize":24,"labelFontSize":24,"labelColor":"#4d4d4d","tickSize":5,"tickWidth":3,"titlePadding":-3,"labelPadding":2}}}},
{"data":{"name":"fu"},"mark":{"type":"rule","opacity":0},"encoding":{"y":{"field":"term","type":"nominal","sort":null,"scale":{"type":"point","padding":0,"range":[679,919]},"axis":{"orient":"right","offset":-359,"title":null,"labelExpr":"split(datum.label,'|')","labelFontSize":25.5,"labelColor":"#4d4d4d","labelLimit":500,"tickSize":5,"tickWidth":3,"labelPadding":3,"labelLineHeight":18}}}},
{"layer":[
{"data":{"values":[{"v":10},{"v":20},{"v":30},{"v":40}]},"mark":{"type":"rule","color":"#ebebeb","strokeWidth":3.5},"encoding":{"x":{"field":"v","type":"quantitative","scale":{"domain":[1.2,45.9],"range":[1465,1769],"nice":false},"axis":null},"y":{"datum":0,"scale":{"domain":[0,1],"range":[947,652],"nice":false},"axis":null},"y2":{"datum":1}}},
{"data":{"values":[{"v":5},{"v":15},{"v":25},{"v":35},{"v":45}]},"mark":{"type":"rule","color":"#ebebeb","strokeWidth":1.5},"encoding":{"x":{"field":"v","type":"quantitative","axis":null},"y":{"datum":0,"axis":null},"y2":{"datum":1}}},
{"mark":{"type":"rect","fill":null,"stroke":"#333","strokeWidth":3},"encoding":{"x":{"datum":1.2,"axis":null},"x2":{"datum":45.9},"y":{"datum":0,"axis":null},"y2":{"datum":1}}},
{"data":{"values":[{"t":"Up","x":41.2,"y":1.098}]},"mark":{"type":"text","fontSize":37,"fontWeight":"bold","color":"#A6192E"},"encoding":{"x":{"field":"x","type":"quantitative","axis":null},"y":{"field":"y","type":"quantitative","axis":null},"text":{"field":"t"}}},
{"data":{"values":[{"t":"F","x":-5.27,"y":1.1}]},"mark":{"type":"text","fontSize":50},"encoding":{"x":{"field":"x","type":"quantitative","axis":null},"y":{"field":"y","type":"quantitative","axis":null},"text":{"field":"t"}}}
]},
{"data":{"name":"fu"},"layer":[
{"mark":{"type":"rule","color":"#ebebeb","strokeWidth":3.5},"encoding":{"x":{"datum":1.2,"scale":{"domain":[1.2,45.9],"range":[1465,1769],"nice":false},"axis":null},"x2":{"datum":45.9},"y":{"field":"term","type":"nominal","sort":null,"scale":{"type":"point","padding":0,"range":[679,919]},"axis":null}}},
{"mark":{"type":"point","filled":true,"opacity":1},"encoding":{"x":{"field":"count","type":"quantitative","axis":null},"y":{"field":"term","type":"nominal","sort":null,"axis":null},"size":{"field":"count","type":"quantitative","scale":{"domain":[3,44],"range":[49,784]},"legend":null},"color":{"field":"p","type":"quantitative","scale":{"domain":[42.9,1.7],"range":["#EE9F7B","#3A4B8F"],"interpolate":"rgb"},"legend":null}}}
]},
{"mark":{"type":"rule","opacity":0},"encoding":{"x":{"datum":42.9,"scale":{"domain":[42.9,1.7],"range":[1618,1776],"nice":false},"axis":{"orient":"top","offset":-1032,"values":[40,30,20,10],"title":null,"ticks":false,"labelFontSize":24,"labelPadding":3}}}},
{"layer":[
{"mark":{"type":"rect","color":{"gradient":"linear","x1":0,"x2":1,"y1":0,"y2":0,"stops":[{"offset":0,"color":"#EE9F7B"},{"offset":1,"color":"#3A4B8F"}]}},"encoding":{"x":{"datum":42.9,"scale":{"domain":[42.9,1.7],"range":[1618,1776],"nice":false},"axis":null},"x2":{"datum":1.7},"y":{"datum":0,"scale":{"domain":[0,1],"range":[1053,1032],"nice":false},"axis":null},"y2":{"datum":1}}},
{"data":{"values":[{"v":40},{"v":30},{"v":20},{"v":10}]},"mark":{"type":"rule","color":"white","strokeWidth":1.5},"encoding":{"x":{"field":"v","type":"quantitative","axis":null},"y":{"datum":0,"axis":null},"y2":{"datum":1}}},
{"data":{"values":[{"t":"−log₁₀(pvalue)","x":44.9},{"t":"count","x":-24.5}]},"mark":{"type":"text","align":"right","fontSize":24},"encoding":{"x":{"field":"x","type":"quantitative","axis":null},"y":{"datum":0.5,"axis":null},"text":{"field":"t"}}}
]},
{"data":{"values":[{"n":10},{"n":20},{"n":30},{"n":40}]},"mark":{"type":"point","filled":true,"color":"black","opacity":1},"encoding":{"x":{"field":"n","type":"ordinal","scale":{"type":"point","padding":0,"range":[1892,1977]},"axis":{"orient":"top","offset":-1025,"title":null,"ticks":false,"labelAngle":0,"labelFontSize":24,"labelPadding":0}},"y":{"datum":0,"scale":{"domain":[-1,1],"range":[1049,1029],"nice":false},"axis":null},"size":{"field":"n","type":"quantitative","scale":{"domain":[3,44],"range":[49,784]},"legend":null}}},
{"mark":{"type":"rule","opacity":0},"encoding":{"x":{"datum":1.86,"scale":{"domain":[1.86,5.15],"range":[1468,1781],"nice":false},"axis":{"orient":"bottom","offset":-454,"values":[2,3,4,5],"title":"Count","titleFontSize":24,"labelFontSize":24,"labelColor":"#4d4d4d","tickSize":5,"tickWidth":3,"titlePadding":-3,"labelPadding":2}}}},
{"data":{"name":"fd"},"mark":{"type":"rule","opacity":0},"encoding":{"y":{"field":"term","type":"nominal","sort":null,"scale":{"type":"point","padding":0,"range":[1153,1392]},"axis":{"orient":"right","offset":-347,"title":null,"labelExpr":"split(datum.label,'|')","labelFontSize":25.3,"labelColor":"#4d4d4d","labelLimit":500,"tickSize":5,"tickWidth":3,"labelPadding":3,"labelLineHeight":21}}}},
{"layer":[
{"data":{"values":[{"v":2},{"v":3},{"v":4},{"v":5}]},"mark":{"type":"rule","color":"#ebebeb","strokeWidth":3.5},"encoding":{"x":{"field":"v","type":"quantitative","scale":{"domain":[1.86,5.15],"range":[1468,1781],"nice":false},"axis":null},"y":{"datum":0,"scale":{"domain":[0,1],"range":[1420,1125],"nice":false},"axis":null},"y2":{"datum":1}}},
{"data":{"values":[{"v":2.5},{"v":3.5},{"v":4.5}]},"mark":{"type":"rule","color":"#ebebeb","strokeWidth":1.5},"encoding":{"x":{"field":"v","type":"quantitative","axis":null},"y":{"datum":0,"axis":null},"y2":{"datum":1}}},
{"mark":{"type":"rect","fill":null,"stroke":"#333","strokeWidth":3},"encoding":{"x":{"datum":1.86,"axis":null},"x2":{"datum":5.15},"y":{"datum":0,"axis":null},"y2":{"datum":1}}},
{"data":{"values":[{"t":"Down","x":4.55,"y":1.085}]},"mark":{"type":"text","fontSize":37,"fontWeight":"bold","color":"#1F4A93"},"encoding":{"x":{"field":"x","type":"quantitative","axis":null},"y":{"field":"y","type":"quantitative","axis":null},"text":{"field":"t"}}}
]},
{"data":{"name":"fd"},"layer":[
{"mark":{"type":"rule","color":"#ebebeb","strokeWidth":3.5},"encoding":{"x":{"datum":1.86,"scale":{"domain":[1.86,5.15],"range":[1468,1781],"nice":false},"axis":null},"x2":{"datum":5.15},"y":{"field":"term","type":"nominal","sort":null,"scale":{"type":"point","padding":0,"range":[1153,1392]},"axis":null}}},
{"mark":{"type":"point","filled":true,"opacity":1},"encoding":{"x":{"field":"count","type":"quantitative","axis":null},"y":{"field":"term","type":"nominal","sort":null,"axis":null},"size":{"field":"count","type":"quantitative","scale":{"domain":[2,5],"range":[49,784]},"legend":null},"color":{"field":"p","type":"quantitative","scale":{"domain":[2.07,1.33],"range":["#EE9F7B","#3A4B8F"],"interpolate":"rgb"},"legend":null}}}
]},
{"mark":{"type":"rule","opacity":0},"encoding":{"x":{"datum":2.07,"scale":{"domain":[2.07,1.33],"range":[1630,1785],"nice":false},"axis":{"orient":"top","offset":-1510,"values":[1.9,1.7,1.5],"format":".1f","title":null,"ticks":false,"labelFontSize":24,"labelPadding":3}}}},
{"layer":[
{"mark":{"type":"rect","color":{"gradient":"linear","x1":0,"x2":1,"y1":0,"y2":0,"stops":[{"offset":0,"color":"#EE9F7B"},{"offset":1,"color":"#3A4B8F"}]}},"encoding":{"x":{"datum":2.07,"scale":{"domain":[2.07,1.33],"range":[1630,1785],"nice":false},"axis":null},"x2":{"datum":1.33},"y":{"datum":0,"scale":{"domain":[0,1],"range":[1532,1510],"nice":false},"axis":null},"y2":{"datum":1}}},
{"data":{"values":[{"v":1.9},{"v":1.7},{"v":1.5}]},"mark":{"type":"rule","color":"white","strokeWidth":1.5},"encoding":{"x":{"field":"v","type":"quantitative","axis":null},"y":{"datum":0,"axis":null},"y2":{"datum":1}}},
{"data":{"values":[{"t":"−log₁₀(pvalue)","x":2.09},{"t":"count","x":0.82}]},"mark":{"type":"text","align":"right","fontSize":24},"encoding":{"x":{"field":"x","type":"quantitative","axis":null},"y":{"datum":0.5,"axis":null},"text":{"field":"t"}}}
]},
{"data":{"values":[{"n":2},{"n":3},{"n":4},{"n":5}]},"mark":{"type":"point","filled":true,"color":"black","opacity":1},"encoding":{"x":{"field":"n","type":"ordinal","scale":{"type":"point","padding":0,"range":[1905,1988]},"axis":{"orient":"top","offset":-1503,"title":null,"ticks":false,"labelAngle":0,"labelFontSize":24,"labelPadding":0}},"y":{"datum":0,"scale":{"domain":[-1,1],"range":[1527,1507],"nice":false},"axis":null},"size":{"field":"n","type":"quantitative","scale":{"domain":[2,5],"range":[49,784]},"legend":null}}},
{"layer":[
{"data":{"values":[{"set":"old_gene_up","x":10.9},{"set":"old_protein_up","x":33.6},{"set":"old_gene_down","x":73.9},{"set":"old_protein_down","x":89.1}]},"mark":{"type":"point","filled":true,"opacity":1,"size":65025,"stroke":"white","strokeWidth":6},"encoding":{"x":{"field":"x","type":"quantitative","scale":{"domain":[0,100],"range":[887,2041],"nice":false},"axis":null},"y":{"datum":50,"scale":{"domain":[0,100],"range":[1606,1861],"nice":false},"axis":null},"color":{"field":"set","type":"nominal","scale":{"domain":["old_gene_up","old_protein_up","old_gene_down","old_protein_down"],"range":["#339B9B","#55C698","#7FABD6","#BDB7DA"]},"legend":null}}},
{"data":{"values":[{"x":73.9}]},"mark":{"type":"point","filled":false,"opacity":1,"size":65025,"stroke":"white","strokeWidth":6},"encoding":{"x":{"field":"x","type":"quantitative","axis":null},"y":{"datum":50,"axis":null}}},
{"data":{"values":[{"set":"old_gene_up","x":12,"y":-9.4},{"set":"old_protein_up","x":34,"y":-9.4},{"set":"old_gene_down","x":70.5,"y":-9.4},{"set":"old_protein_down","x":93.7,"y":-9.4}]},"mark":{"type":"text","fontSize":32},"encoding":{"x":{"field":"x","type":"quantitative","axis":null},"y":{"field":"y","type":"quantitative","axis":null},"text":{"field":"set"},"color":{"field":"set","type":"nominal","legend":null}}},
{"data":{"values":[{"t":"56","x":11,"y":40},{"t":"(63.6%)","x":11.2,"y":56},{"t":"32","x":34,"y":40},{"t":"(36.4%)","x":34.1,"y":56},{"t":"183","x":70.9,"y":40},{"t":"(54.1%)","x":70.5,"y":56},{"t":"4","x":81.3,"y":40},{"t":"(1.2%)","x":81.5,"y":56},{"t":"151","x":90.9,"y":40},{"t":"(44.7%)","x":91.2,"y":56},{"t":"0","x":22.4,"y":85},{"t":"(0.0%)","x":22.7,"y":98.4}]},"mark":{"type":"text","fontSize":27},"encoding":{"x":{"field":"x","type":"quantitative","axis":null},"y":{"field":"y","type":"quantitative","axis":null},"text":{"field":"t"}}},
{"data":{"values":[{"t":"G","x":-4,"y":-6.3}]},"mark":{"type":"text","fontSize":50},"encoding":{"x":{"field":"x","type":"quantitative","axis":null},"y":{"field":"y","type":"quantitative","axis":null},"text":{"field":"t"}}},
{"data":{"values":[{"x":22.4}]},"mark":{"type":"rule","color":"black","strokeWidth":2},"encoding":{"x":{"field":"x","type":"quantitative","axis":null},"y":{"datum":63,"axis":null},"y2":{"datum":76}}},
{"data":{"values":[{"x":22.4}]},"mark":{"type":"point","shape":"triangle-down","filled":true,"color":"black","size":130,"opacity":1},"encoding":{"x":{"field":"x","type":"quantitative","axis":null},"y":{"datum":74,"axis":null}}}
]}
]}
